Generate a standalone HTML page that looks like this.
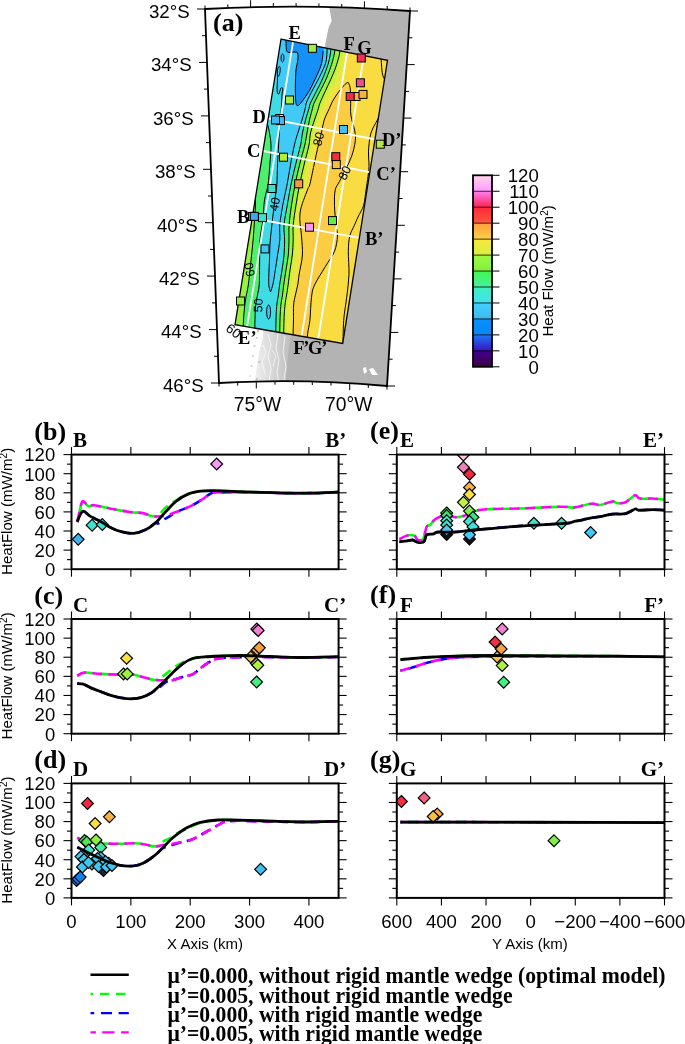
<!DOCTYPE html><html><head><meta charset="utf-8"><style>html,body{margin:0;padding:0;background:#fff;}svg{display:block;will-change:transform;}</style></head><body>
<svg width="685" height="1044" viewBox="0 0 685 1044">
<rect x="0" y="0" width="685" height="1044" fill="#fff"/>
<defs>
<clipPath id="cf"><path d="M205,9 Q307.5,3.4 410,11 L387,386 Q303,378.3 219,383 Z"/></clipPath>
<clipPath id="cr"><polygon points="281.0,39.2 387.5,60.3 342.7,343.4 235.0,324.7"/></clipPath>
</defs>
<path d="M205,9 Q307.5,3.4 410,11 L387,386 Q303,378.3 219,383 Z" fill="#fff"/>
<g clip-path="url(#cf)">
<polygon points="329.5,4.0 329.5,8.0 331.0,17.0 331.7,21.0 328.8,27.0 327.3,34.0 325.0,46.0 300.0,200.0 290.0,330.0 288.0,345.0 287.0,360.0 285.0,383.0 285.0,395.0 420.0,395.0 420.0,4.0" fill="#b3b3b3"/>
<defs><linearGradient id="ag" gradientUnits="userSpaceOnUse" x1="256" y1="0" x2="290" y2="0"><stop offset="0" stop-color="#eeeeee"/><stop offset="0.5" stop-color="#d6d6d6"/><stop offset="1" stop-color="#c0c0c0"/></linearGradient></defs>
<polygon points="263.0,326.0 292.0,330.0 289.0,345.0 287.0,365.0 285.0,386.0 254.0,386.0 256.0,372.0 259.0,352.0 263.0,338.0" fill="url(#ag)"/>
<circle cx="258.0" cy="331.0" r="1.2" fill="#c8c8c8"/>
<circle cx="256.5" cy="338.0" r="1.0" fill="#c8c8c8"/>
<circle cx="254.5" cy="346.0" r="1.1" fill="#c8c8c8"/>
<circle cx="253.0" cy="356.0" r="0.9" fill="#c8c8c8"/>
<circle cx="251.5" cy="366.0" r="1.0" fill="#c8c8c8"/>
<circle cx="250.0" cy="376.0" r="0.8" fill="#c8c8c8"/>
<circle cx="259.5" cy="362.0" r="1.3" fill="#c8c8c8"/>
<circle cx="257.0" cy="379.0" r="1.2" fill="#c8c8c8"/>
<path d="M268,334 L271,345 L268,356 L271,368 L269,382" stroke="#fff" stroke-width="0.9" fill="none" opacity="0.8"/>
<path d="M278,334 L276,348 L279,360 L277,372 L279,384" stroke="#fff" stroke-width="0.9" fill="none" opacity="0.8"/>
<path d="M263,345 L266,352 L262,362 L265,374" stroke="#fff" stroke-width="0.9" fill="none" opacity="0.8"/>
<path d="M285,336 L283,352 L286,366 L284,380" stroke="#fff" stroke-width="0.9" fill="none" opacity="0.8"/>
<path d="M272,350 L276,356 L273,366" stroke="#fff" stroke-width="0.9" fill="none" opacity="0.8"/>
<path d="M363,368 L366,367 L367,372 L364,374 Z M369,369 L373,368 L376,372 L378,375 L372,375 Z" fill="#fff"/>
</g>
<g clip-path="url(#cr)">
<polygon points="281.0,39.2 387.5,60.3 342.7,343.4 235.0,324.7" fill="#40dce6"/>
<path d="M270.00,30.00 C271.00,34.67 274.90,52.00 276.00,58.00 C277.10,64.00 276.35,62.83 276.60,66.00 C276.85,69.17 277.42,72.90 277.50,77.00 C277.58,81.10 276.88,87.77 277.10,90.60 C277.32,93.43 278.15,94.43 278.80,94.00 C279.45,93.57 280.33,88.87 281.00,88.00 C281.67,87.13 282.65,87.63 282.80,88.80 C282.95,89.97 282.12,92.30 281.90,95.00 C281.68,97.70 281.65,102.08 281.50,105.00 C281.35,107.92 281.20,110.00 281.00,112.50 C280.80,115.00 280.55,117.08 280.30,120.00 C280.05,122.92 279.78,125.83 279.50,130.00 C279.22,134.17 278.93,139.17 278.60,145.00 C278.27,150.83 277.80,158.33 277.50,165.00 C277.20,171.67 277.25,179.17 276.80,185.00 C276.35,190.83 275.43,195.00 274.80,200.00 C274.17,205.00 273.58,210.00 273.00,215.00 C272.42,220.00 271.82,225.00 271.30,230.00 C270.78,235.00 270.18,240.33 269.90,245.00 C269.62,249.67 269.75,253.83 269.60,258.00 C269.45,262.17 269.13,265.50 269.00,270.00 C268.87,274.50 268.53,281.33 268.80,285.00 C269.07,288.67 270.30,290.83 270.60,292.00 C270.90,293.17 270.17,293.50 270.60,292.00 C271.03,290.50 272.42,286.67 273.20,283.00 C273.98,279.33 274.57,274.67 275.30,270.00 C276.03,265.33 276.85,260.00 277.60,255.00 C278.35,250.00 279.43,245.00 279.80,240.00 C280.17,235.00 279.30,230.83 279.80,225.00 C280.30,219.17 281.60,211.67 282.80,205.00 C284.00,198.33 285.72,191.67 287.00,185.00 C288.28,178.33 289.27,171.67 290.50,165.00 C291.73,158.33 293.18,150.33 294.40,145.00 C295.62,139.67 296.53,137.17 297.80,133.00 C299.07,128.83 300.77,124.08 302.00,120.00 C303.23,115.92 304.42,111.52 305.20,108.50 C305.98,105.48 305.37,105.18 306.70,101.90 C308.03,98.62 311.13,92.82 313.20,88.80 C315.27,84.78 317.27,81.45 319.10,77.80 C320.93,74.15 322.98,69.93 324.20,66.90 C325.42,63.87 325.92,62.40 326.40,59.60 C326.88,56.80 326.83,53.37 327.10,50.10 C327.37,46.83 327.85,41.68 328.00,40.00 Z" fill="#42caf6"/>
<polygon points="260,30 276,58 276.6,66 250,70" fill="#42caf6"/>
<polygon points="331.5,40.0 330.8,50.5 329.3,59.6 326.4,69.1 322.0,80.0 316.2,91.7 310.3,103.4 308.9,108.5 305.5,120.0 302.5,133.0 300.6,145.0 295.5,165.0 290.9,185.0 287.3,205.0 284.0,225.0 284.6,240.0 284.0,255.0 282.0,270.0 279.6,285.0 278.4,295.0 276.8,305.0 276.0,320.0 275.5,350.0 460.0,350.0 460.0,40.0" fill="#4cf06c"/>
<polygon points="335.5,40.0 334.8,50.8 333.0,59.6 330.0,69.1 325.7,80.0 319.8,91.7 314.0,103.4 312.5,108.5 309.5,120.0 307.0,133.0 304.8,145.0 299.5,165.0 295.0,185.0 291.5,205.0 289.1,225.0 289.0,240.0 288.3,255.0 286.0,270.0 283.7,285.0 282.5,295.0 280.9,305.0 280.0,320.0 279.5,350.0 460.0,350.0 460.0,40.0" fill="#98f040"/>
<polygon points="340.5,36.0 340.5,39.0 340.4,42.0 340.2,45.0 340.1,48.0 339.9,51.0 339.4,54.0 338.7,57.0 338.0,60.0 337.0,63.0 336.1,66.0 335.1,69.0 333.9,72.0 332.6,75.0 331.3,78.0 330.0,81.0 328.6,84.0 327.2,87.0 325.8,90.0 324.5,93.0 323.1,96.0 321.8,99.0 320.4,102.0 319.4,105.0 318.5,108.0 317.6,111.0 316.5,114.0 315.5,117.0 314.5,120.0 313.6,123.0 312.7,126.0 311.7,129.0 310.8,132.0 310.2,135.0 309.9,138.0 309.5,141.0 309.1,144.0 308.5,147.0 307.8,150.0 307.0,153.0 306.2,156.0 305.5,159.0 304.8,162.0 304.0,165.0 303.3,168.0 302.6,171.0 302.0,174.0 301.3,177.0 300.6,180.0 299.9,183.0 299.3,186.0 298.8,189.0 298.3,192.0 297.8,195.0 297.2,198.0 296.7,201.0 296.2,204.0 295.7,207.0 295.3,210.0 294.9,213.0 294.5,216.0 294.0,219.0 293.6,222.0 293.2,225.0 293.2,228.0 293.2,231.0 293.2,234.0 293.2,237.0 293.2,240.0 293.0,243.0 292.8,246.0 292.7,249.0 292.5,252.0 292.3,255.0 291.8,258.0 291.4,261.0 290.9,264.0 290.5,267.0 290.0,270.0 289.6,273.0 289.2,276.0 288.9,279.0 288.5,282.0 288.1,285.0 287.7,288.0 287.2,291.0 286.8,294.0 286.3,297.0 285.8,300.0 285.3,303.0 284.9,306.0 284.7,309.0 284.5,312.0 284.3,315.0 284.1,318.0 284.0,321.0 283.9,324.0 283.9,327.0 283.8,330.0 283.8,333.0 283.7,336.0 283.7,339.0 283.6,342.0 283.6,345.0 283.5,348.0 460.0,348.0 460.0,36.0" fill="#c8f040"/>
<polygon points="343.6,36.0 343.5,39.0 343.4,42.0 343.2,45.0 343.0,48.0 342.8,51.0 342.3,54.0 341.7,57.0 341.1,60.0 340.3,63.0 339.5,66.0 338.7,69.0 337.7,72.0 336.7,75.0 335.7,78.0 334.6,81.0 332.9,84.0 331.1,87.0 329.4,90.0 327.8,93.0 326.3,96.0 324.8,99.0 323.4,102.0 322.3,105.0 321.3,108.0 320.2,111.0 319.1,114.0 318.0,117.0 316.9,120.0 316.1,123.0 315.2,126.0 314.4,129.0 313.5,132.0 312.9,135.0 312.4,138.0 312.0,141.0 311.5,144.0 310.9,147.0 310.1,150.0 309.4,153.0 308.7,156.0 308.0,159.0 307.2,162.0 306.5,165.0 305.8,168.0 305.2,171.0 304.5,174.0 303.8,177.0 303.2,180.0 302.5,183.0 301.8,186.0 301.1,189.0 300.4,192.0 299.8,195.0 299.1,198.0 298.5,201.0 297.9,204.0 297.3,207.0 296.7,210.0 296.2,213.0 295.9,216.0 295.6,219.0 295.4,222.0 295.1,225.0 295.1,228.0 295.2,231.0 295.2,234.0 295.3,237.0 295.3,240.0 295.2,243.0 295.1,246.0 295.0,249.0 294.9,252.0 294.8,255.0 294.4,258.0 293.9,261.0 293.4,264.0 292.9,267.0 292.5,270.0 292.1,273.0 291.7,276.0 291.3,279.0 290.9,282.0 290.5,285.0 290.0,288.0 289.5,291.0 289.0,294.0 288.5,297.0 288.0,300.0 287.5,303.0 287.1,306.0 286.9,309.0 286.8,312.0 286.6,315.0 286.5,318.0 286.4,321.0 286.3,324.0 286.2,327.0 286.2,330.0 286.1,333.0 286.1,336.0 286.0,339.0 286.0,342.0 285.9,345.0 285.9,348.0 460.0,348.0 460.0,36.0" fill="#e0ea40"/>
<polygon points="346.8,36.0 346.6,39.0 346.4,42.0 346.2,45.0 345.9,48.0 345.7,51.0 345.2,54.0 344.7,57.0 344.2,60.0 343.6,63.0 343.0,66.0 342.3,69.0 341.5,72.0 340.7,75.0 340.0,78.0 339.1,81.0 337.1,84.0 335.0,87.0 333.0,90.0 331.2,93.0 329.5,96.0 327.9,99.0 326.4,102.0 325.1,105.0 324.0,108.0 322.9,111.0 321.7,114.0 320.6,117.0 319.4,120.0 318.6,123.0 317.8,126.0 317.0,129.0 316.2,132.0 315.6,135.0 315.0,138.0 314.4,141.0 313.9,144.0 313.2,147.0 312.5,150.0 311.8,153.0 311.1,156.0 310.4,159.0 309.7,162.0 309.0,165.0 308.3,168.0 307.7,171.0 307.0,174.0 306.4,177.0 305.7,180.0 305.0,183.0 304.3,186.0 303.3,189.0 302.5,192.0 301.8,195.0 301.0,198.0 300.3,201.0 299.5,204.0 298.8,207.0 298.1,210.0 297.4,213.0 297.3,216.0 297.2,219.0 297.1,222.0 297.0,225.0 297.1,228.0 297.2,231.0 297.3,234.0 297.4,237.0 297.4,240.0 297.4,243.0 297.4,246.0 297.4,249.0 297.4,252.0 297.4,255.0 296.9,258.0 296.4,261.0 295.9,264.0 295.4,267.0 294.9,270.0 294.5,273.0 294.1,276.0 293.7,279.0 293.3,282.0 292.9,285.0 292.3,288.0 291.8,291.0 291.2,294.0 290.7,297.0 290.1,300.0 289.6,303.0 289.3,306.0 289.2,309.0 289.0,312.0 288.9,315.0 288.8,318.0 288.7,321.0 288.7,324.0 288.6,327.0 288.5,330.0 288.5,333.0 288.4,336.0 288.4,339.0 288.3,342.0 288.3,345.0 288.3,348.0 460.0,348.0 460.0,36.0" fill="#f0e440"/>
<polygon points="349.9,36.0 349.6,39.0 349.4,42.0 349.1,45.0 348.8,48.0 348.6,51.0 348.2,54.0 347.8,57.0 347.4,60.0 346.9,63.0 346.4,66.0 345.9,69.0 345.4,72.0 344.8,75.0 344.3,78.0 343.7,81.0 341.3,84.0 338.9,87.0 336.6,90.0 334.6,93.0 332.8,96.0 330.9,99.0 329.3,102.0 328.0,105.0 326.8,108.0 325.5,111.0 324.3,114.0 323.1,117.0 321.8,120.0 321.0,123.0 320.3,126.0 319.6,129.0 318.9,132.0 318.2,135.0 317.6,138.0 316.9,141.0 316.3,144.0 315.6,147.0 314.9,150.0 314.2,153.0 313.5,156.0 312.9,159.0 312.2,162.0 311.5,165.0 310.8,168.0 310.2,171.0 309.5,174.0 308.9,177.0 308.2,180.0 307.6,183.0 306.8,186.0 305.6,189.0 304.6,192.0 303.8,195.0 302.9,198.0 302.1,201.0 301.2,204.0 300.4,207.0 299.5,210.0 298.7,213.0 298.8,216.0 298.8,219.0 298.8,222.0 298.9,225.0 299.0,228.0 299.2,231.0 299.3,234.0 299.5,237.0 299.6,240.0 299.6,243.0 299.7,246.0 299.8,249.0 299.8,252.0 299.9,255.0 299.4,258.0 298.9,261.0 298.4,264.0 297.9,267.0 297.4,270.0 296.9,273.0 296.5,276.0 296.1,279.0 295.7,282.0 295.3,285.0 294.7,288.0 294.0,291.0 293.4,294.0 292.8,297.0 292.3,300.0 291.8,303.0 291.4,306.0 291.4,309.0 291.3,312.0 291.2,315.0 291.2,318.0 291.1,321.0 291.0,324.0 290.9,327.0 290.9,330.0 290.8,333.0 290.7,336.0 290.7,339.0 290.7,342.0 290.7,345.0 290.6,348.0 460.0,348.0 460.0,36.0" fill="#f6de40"/>
<polygon points="353.0,36.0 350.5,60.0 348.1,82.3 345.0,84.4 338.8,91.7 333.0,100.5 329.3,108.5 324.1,120.4 321.2,133.7 318.4,145.0 314.0,165.0 309.7,185.0 307.4,190.0 300.0,213.0 301.5,236.0 302.4,255.0 299.2,274.0 297.7,285.0 295.4,295.0 293.6,305.0 293.5,320.0 293.1,334.0 293.0,350.0 460.0,350.0 460.0,36.0" fill="#fbcd43"/>
<polygon points="348.1,82.3 350.1,87.4 350.7,100.0 350.9,115.3 354.7,130.7 355.3,140.9 351.7,156.2 345.5,169.5 339.4,181.7 335.2,190.0 334.5,205.3 336.0,225.3 337.5,236.0 334.5,251.3 325.3,266.7 314.5,285.1 311.5,297.3 309.9,320.3 307.6,334.1 307.0,350.0 460.0,350.0 460.0,30.0 353.0,30.0 350.5,60.0" fill="#f9dc42"/>
<polygon points="265.5,118.0 268.5,128.0 271.0,145.0 269.8,165.0 268.0,185.0 264.5,200.0 262.9,220.0 260.0,240.0 259.6,265.0 259.2,285.0 256.5,300.0 255.3,310.0 254.8,330.0 254.5,350.0 200.0,350.0 200.0,118.0" fill="#4cf06c"/>
<polygon points="253.0,190.0 255.5,200.0 254.5,220.0 253.1,240.0 250.5,265.0 248.3,285.0 245.5,300.0 243.5,320.0 242.5,350.0 200.0,350.0 200.0,190.0" fill="#98f040"/>
<path d="M286.00,38.00 C292.33,38.00 317.82,35.87 324.00,38.00 C330.18,40.13 323.32,47.80 323.10,50.80 C322.88,53.80 322.95,53.93 322.70,56.00 C322.45,58.07 322.20,60.78 321.60,63.20 C321.00,65.62 320.25,67.70 319.10,70.50 C317.95,73.30 316.28,76.70 314.70,80.00 C313.12,83.30 311.42,87.13 309.60,90.30 C307.78,93.47 305.48,96.63 303.80,99.00 C302.12,101.37 300.67,103.45 299.50,104.50 C298.33,105.55 297.45,106.05 296.80,105.30 C296.15,104.55 295.83,103.38 295.60,100.00 C295.37,96.62 295.33,90.00 295.40,85.00 C295.47,80.00 295.60,74.17 296.00,70.00 C296.40,65.83 297.53,62.83 297.80,60.00 C298.07,57.17 298.23,54.33 297.60,53.00 C296.97,51.67 295.43,52.08 294.00,52.00 C292.57,51.92 290.25,52.83 289.00,52.50 C287.75,52.17 286.92,50.42 286.50,50.00 Z" fill="#1490f8"/>
<ellipse cx="268.6" cy="312" rx="2" ry="7" fill="#3cc0f6" stroke="#000" stroke-width="0.9"/>
<ellipse cx="282.5" cy="58" rx="1.5" ry="4" fill="#3cc0f6" stroke="#000" stroke-width="0.9"/>
<path d="M277.5,70 C279,64 281,66 280,72 C279,78 277,78 277.5,70 Z" fill="none" stroke="#000" stroke-width="0.9"/>
<path d="M328.00,40.00 C327.85,41.68 327.37,46.83 327.10,50.10 C326.83,53.37 326.88,56.80 326.40,59.60 C325.92,62.40 325.42,63.87 324.20,66.90 C322.98,69.93 320.93,74.15 319.10,77.80 C317.27,81.45 315.27,84.78 313.20,88.80 C311.13,92.82 308.03,98.62 306.70,101.90 C305.37,105.18 305.98,105.48 305.20,108.50 C304.42,111.52 303.23,115.92 302.00,120.00 C300.77,124.08 299.07,128.83 297.80,133.00 C296.53,137.17 295.62,139.67 294.40,145.00 C293.18,150.33 291.73,158.33 290.50,165.00 C289.27,171.67 288.28,178.33 287.00,185.00 C285.72,191.67 284.00,198.33 282.80,205.00 C281.60,211.67 280.30,219.17 279.80,225.00 C279.30,230.83 280.17,235.00 279.80,240.00 C279.43,245.00 278.35,250.00 277.60,255.00 C276.85,260.00 276.03,265.33 275.30,270.00 C274.57,274.67 273.98,279.33 273.20,283.00 C272.42,286.67 271.03,290.50 270.60,292.00" stroke="#000" stroke-width="1" fill="none"/>
<path d="M331.50,40.00 C331.38,41.75 331.17,47.23 330.80,50.50 C330.43,53.77 330.03,56.50 329.30,59.60 C328.57,62.70 327.62,65.70 326.40,69.10 C325.18,72.50 323.70,76.23 322.00,80.00 C320.30,83.77 318.15,87.80 316.20,91.70 C314.25,95.60 311.52,100.60 310.30,103.40 C309.08,106.20 309.70,105.73 308.90,108.50 C308.10,111.27 306.57,115.92 305.50,120.00 C304.43,124.08 303.32,128.83 302.50,133.00 C301.68,137.17 301.77,139.67 300.60,145.00 C299.43,150.33 297.12,158.33 295.50,165.00 C293.88,171.67 292.27,178.33 290.90,185.00 C289.53,191.67 288.45,198.33 287.30,205.00 C286.15,211.67 284.45,219.17 284.00,225.00 C283.55,230.83 284.60,235.00 284.60,240.00 C284.60,245.00 284.43,250.00 284.00,255.00 C283.57,260.00 282.73,265.00 282.00,270.00 C281.27,275.00 280.20,280.83 279.60,285.00 C279.00,289.17 278.87,291.67 278.40,295.00 C277.93,298.33 277.20,300.83 276.80,305.00 C276.40,309.17 276.22,312.50 276.00,320.00 C275.78,327.50 275.58,345.00 275.50,350.00" stroke="#000" stroke-width="1" fill="none"/>
<path d="M335.50,40.00 C335.38,41.80 335.22,47.53 334.80,50.80 C334.38,54.07 333.80,56.55 333.00,59.60 C332.20,62.65 331.22,65.70 330.00,69.10 C328.78,72.50 327.40,76.23 325.70,80.00 C324.00,83.77 321.75,87.80 319.80,91.70 C317.85,95.60 315.22,100.60 314.00,103.40 C312.78,106.20 313.25,105.73 312.50,108.50 C311.75,111.27 310.42,115.92 309.50,120.00 C308.58,124.08 307.78,128.83 307.00,133.00 C306.22,137.17 306.05,139.67 304.80,145.00 C303.55,150.33 301.13,158.33 299.50,165.00 C297.87,171.67 296.33,178.33 295.00,185.00 C293.67,191.67 292.48,198.33 291.50,205.00 C290.52,211.67 289.52,219.17 289.10,225.00 C288.68,230.83 289.13,235.00 289.00,240.00 C288.87,245.00 288.80,250.00 288.30,255.00 C287.80,260.00 286.77,265.00 286.00,270.00 C285.23,275.00 284.28,280.83 283.70,285.00 C283.12,289.17 282.97,291.67 282.50,295.00 C282.03,298.33 281.32,300.83 280.90,305.00 C280.48,309.17 280.23,312.50 280.00,320.00 C279.77,327.50 279.58,345.00 279.50,350.00" stroke="#000" stroke-width="1" fill="none"/>
<path d="M340.50,40.00 C340.40,41.93 340.30,48.33 339.90,51.60 C339.50,54.87 338.90,56.68 338.10,59.60 C337.30,62.52 336.32,65.82 335.10,69.10 C333.88,72.38 332.37,75.77 330.80,79.30 C329.23,82.83 327.53,86.28 325.70,90.30 C323.87,94.32 321.02,100.37 319.80,103.40 C318.58,106.43 319.28,105.73 318.40,108.50 C317.52,111.27 315.82,115.92 314.50,120.00 C313.18,124.08 311.42,128.83 310.50,133.00 C309.58,137.17 310.08,139.67 309.00,145.00 C307.92,150.33 305.58,158.33 304.00,165.00 C302.42,171.67 300.83,178.33 299.50,185.00 C298.17,191.67 297.05,198.33 296.00,205.00 C294.95,211.67 293.67,219.17 293.20,225.00 C292.73,230.83 293.35,235.00 293.20,240.00 C293.05,245.00 292.83,250.00 292.30,255.00 C291.77,260.00 290.70,265.00 290.00,270.00 C289.30,275.00 288.67,280.83 288.10,285.00 C287.53,289.17 287.12,291.67 286.60,295.00 C286.08,298.33 285.43,300.83 285.00,305.00 C284.57,309.17 284.25,312.50 284.00,320.00 C283.75,327.50 283.58,345.00 283.50,350.00" stroke="#000" stroke-width="1" fill="none"/>
<path d="M348.10,82.30 C348.43,83.15 349.67,84.45 350.10,87.40 C350.53,90.35 350.57,95.35 350.70,100.00 C350.83,104.65 350.23,110.18 350.90,115.30 C351.57,120.42 353.97,126.43 354.70,130.70 C355.43,134.97 355.80,136.65 355.30,140.90 C354.80,145.15 353.33,151.43 351.70,156.20 C350.07,160.97 347.55,165.25 345.50,169.50 C343.45,173.75 341.12,178.28 339.40,181.70 C337.68,185.12 336.02,186.07 335.20,190.00 C334.38,193.93 334.37,199.42 334.50,205.30 C334.63,211.18 335.50,220.18 336.00,225.30 C336.50,230.42 337.75,231.67 337.50,236.00 C337.25,240.33 336.53,246.18 334.50,251.30 C332.47,256.42 328.63,261.07 325.30,266.70 C321.97,272.33 316.80,280.00 314.50,285.10 C312.20,290.20 312.27,291.43 311.50,297.30 C310.73,303.17 310.55,314.17 309.90,320.30 C309.25,326.43 308.08,329.15 307.60,334.10 C307.12,339.05 307.10,347.35 307.00,350.00" stroke="#000" stroke-width="1" fill="none"/>
<path d="M381.20,57.00 C381.25,58.33 381.25,62.00 381.50,65.00 C381.75,68.00 381.95,72.17 382.70,75.00 C383.45,77.83 385.45,80.83 386.00,82.00" stroke="#000" stroke-width="1" fill="none"/>
<path d="M382.00,108.00 C381.37,109.73 379.70,115.07 378.20,118.40 C376.70,121.73 374.35,124.93 373.00,128.00 C371.65,131.07 370.85,132.95 370.10,136.80 C369.35,140.65 368.68,146.17 368.50,151.10 C368.32,156.03 369.08,162.15 369.00,166.40 C368.92,170.65 368.50,172.67 368.00,176.60 C367.50,180.53 366.73,185.22 366.00,190.00 C365.27,194.78 364.93,200.80 363.60,205.30 C362.27,209.80 359.53,213.67 358.00,217.00 C356.47,220.33 355.77,222.13 354.40,225.30 C353.03,228.47 350.82,231.67 349.80,236.00 C348.78,240.33 348.43,244.92 348.30,251.30 C348.17,257.68 349.27,266.63 349.00,274.30 C348.73,281.97 347.58,289.63 346.70,297.30 C345.82,304.97 344.33,311.52 343.70,320.30 C343.07,329.08 343.03,345.05 342.90,350.00" stroke="#000" stroke-width="1" fill="none"/>
<path d="M276.00,58.00 C276.10,59.33 276.35,62.83 276.60,66.00 C276.85,69.17 277.42,72.90 277.50,77.00 C277.58,81.10 276.88,87.77 277.10,90.60 C277.32,93.43 278.15,94.43 278.80,94.00 C279.45,93.57 280.33,88.87 281.00,88.00 C281.67,87.13 282.65,87.63 282.80,88.80 C282.95,89.97 282.12,92.30 281.90,95.00 C281.68,97.70 281.65,102.08 281.50,105.00 C281.35,107.92 281.20,110.00 281.00,112.50 C280.80,115.00 280.55,117.08 280.30,120.00 C280.05,122.92 279.78,125.83 279.50,130.00 C279.22,134.17 278.93,139.17 278.60,145.00 C278.27,150.83 277.80,158.33 277.50,165.00 C277.20,171.67 277.25,179.17 276.80,185.00 C276.35,190.83 275.43,195.00 274.80,200.00 C274.17,205.00 273.58,210.00 273.00,215.00 C272.42,220.00 271.82,225.00 271.30,230.00 C270.78,235.00 270.18,240.33 269.90,245.00 C269.62,249.67 269.75,253.83 269.60,258.00 C269.45,262.17 269.13,265.50 269.00,270.00 C268.87,274.50 268.53,281.33 268.80,285.00 C269.07,288.67 270.30,290.83 270.60,292.00" stroke="#000" stroke-width="1" fill="none"/>
<path d="M265.50,118.00 C266.00,119.67 267.58,123.50 268.50,128.00 C269.42,132.50 270.78,138.83 271.00,145.00 C271.22,151.17 270.30,158.33 269.80,165.00 C269.30,171.67 268.88,179.17 268.00,185.00 C267.12,190.83 265.35,194.17 264.50,200.00 C263.65,205.83 263.65,213.33 262.90,220.00 C262.15,226.67 260.55,232.50 260.00,240.00 C259.45,247.50 259.73,257.50 259.60,265.00 C259.47,272.50 259.72,279.17 259.20,285.00 C258.68,290.83 257.15,295.83 256.50,300.00 C255.85,304.17 255.58,305.00 255.30,310.00 C255.02,315.00 254.93,323.33 254.80,330.00 C254.67,336.67 254.55,346.67 254.50,350.00" stroke="#000" stroke-width="1" fill="none"/>
<path d="M253.00,190.00 C253.42,191.67 255.25,195.00 255.50,200.00 C255.75,205.00 254.90,213.33 254.50,220.00 C254.10,226.67 253.77,232.50 253.10,240.00 C252.43,247.50 251.30,257.50 250.50,265.00 C249.70,272.50 249.13,279.17 248.30,285.00 C247.47,290.83 246.30,294.17 245.50,300.00 C244.70,305.83 244.00,311.67 243.50,320.00 C243.00,328.33 242.67,345.00 242.50,350.00" stroke="#000" stroke-width="1" fill="none"/>
<path d="M348.10,82.30 C347.58,82.65 346.55,82.83 345.00,84.40 C343.45,85.97 340.80,89.02 338.80,91.70 C336.80,94.38 334.58,97.70 333.00,100.50 C331.42,103.30 330.78,105.18 329.30,108.50 C327.82,111.82 325.45,116.20 324.10,120.40 C322.75,124.60 322.15,129.60 321.20,133.70 C320.25,137.80 319.60,139.78 318.40,145.00 C317.20,150.22 315.45,158.33 314.00,165.00 C312.55,171.67 310.80,180.83 309.70,185.00 C308.60,189.17 309.02,185.33 307.40,190.00 C305.78,194.67 300.98,205.33 300.00,213.00 C299.02,220.67 301.10,229.00 301.50,236.00 C301.90,243.00 302.78,248.67 302.40,255.00 C302.02,261.33 299.98,269.00 299.20,274.00 C298.42,279.00 298.33,281.50 297.70,285.00 C297.07,288.50 296.08,291.67 295.40,295.00 C294.72,298.33 293.92,300.83 293.60,305.00 C293.28,309.17 293.58,315.17 293.50,320.00 C293.42,324.83 293.18,329.00 293.10,334.00 C293.02,339.00 293.02,347.33 293.00,350.00" stroke="#000" stroke-width="1" fill="none"/>
<path d="M323.10,50.80 C323.03,51.67 322.95,53.93 322.70,56.00 C322.45,58.07 322.20,60.78 321.60,63.20 C321.00,65.62 320.25,67.70 319.10,70.50 C317.95,73.30 316.28,76.70 314.70,80.00 C313.12,83.30 311.42,87.13 309.60,90.30 C307.78,93.47 305.48,96.63 303.80,99.00 C302.12,101.37 300.67,103.45 299.50,104.50 C298.33,105.55 297.45,106.05 296.80,105.30 C296.15,104.55 295.83,103.38 295.60,100.00 C295.37,96.62 295.33,90.00 295.40,85.00 C295.47,80.00 295.60,74.17 296.00,70.00 C296.40,65.83 297.53,62.83 297.80,60.00 C298.07,57.17 298.23,54.33 297.60,53.00 C296.97,51.67 295.43,52.08 294.00,52.00 C292.57,51.92 290.25,52.83 289.00,52.50 C287.75,52.17 287.00,52.42 286.50,50.00 C286.00,47.58 286.08,40.00 286.00,38.00" stroke="#000" stroke-width="1" fill="none"/>
</g>
<g clip-path="url(#cr)" stroke="#fff" stroke-width="1.8">
<line x1="293.5" y1="39.0" x2="246.5" y2="330.0"/>
<line x1="347.4" y1="50.0" x2="301.0" y2="340.0"/>
<line x1="364.3" y1="53.0" x2="317.7" y2="342.0"/>
<line x1="266.0" y1="117.8" x2="378.0" y2="140.0"/>
<line x1="258.0" y1="150.0" x2="376.0" y2="173.3"/>
<line x1="249.0" y1="217.6" x2="362.0" y2="238.3"/>
</g>
<polygon points="281.0,39.2 387.5,60.3 342.7,343.4 235.0,324.7" fill="none" stroke="#000" stroke-width="1.3"/>
<rect x="275.6" y="114.5" width="8" height="8" fill="#e8e040" stroke="#000" stroke-width="1"/>
<rect x="276.5" y="116.6" width="8" height="8" fill="#40b8f0" stroke="#000" stroke-width="1"/>
<rect x="271.5" y="116.0" width="8" height="8" fill="#40b8f0" stroke="#000" stroke-width="1"/>
<rect x="308.4" y="44.3" width="8" height="8" fill="#a0f040" stroke="#000" stroke-width="1"/>
<rect x="357.3" y="54.0" width="8" height="8" fill="#f03050" stroke="#000" stroke-width="1"/>
<rect x="356.4" y="78.8" width="8" height="8" fill="#f05088" stroke="#000" stroke-width="1"/>
<rect x="352.0" y="92.5" width="8" height="8" fill="#f8b040" stroke="#000" stroke-width="1"/>
<rect x="346.2" y="92.5" width="8" height="8" fill="#f02848" stroke="#000" stroke-width="1"/>
<rect x="359.0" y="90.4" width="8" height="8" fill="#f8b040" stroke="#000" stroke-width="1"/>
<rect x="285.5" y="96.0" width="8" height="8" fill="#a8f040" stroke="#000" stroke-width="1"/>
<rect x="339.5" y="125.5" width="8" height="8" fill="#40c0f8" stroke="#000" stroke-width="1"/>
<rect x="376.3" y="140.2" width="8" height="8" fill="#b8e840" stroke="#000" stroke-width="1"/>
<rect x="279.5" y="153.2" width="8" height="8" fill="#b0f030" stroke="#000" stroke-width="1"/>
<rect x="331.8" y="152.7" width="8" height="8" fill="#f03038" stroke="#000" stroke-width="1"/>
<rect x="332.3" y="160.6" width="8" height="8" fill="#f8c040" stroke="#000" stroke-width="1"/>
<rect x="294.7" y="179.8" width="8" height="8" fill="#f89840" stroke="#000" stroke-width="1"/>
<rect x="267.9" y="184.5" width="8" height="8" fill="#40e0c8" stroke="#000" stroke-width="1"/>
<rect x="248.5" y="212.4" width="8" height="8" fill="#40a8f0" stroke="#000" stroke-width="1"/>
<rect x="250.3" y="212.4" width="8" height="8" fill="#40a8f0" stroke="#000" stroke-width="1"/>
<rect x="258.5" y="213.6" width="8" height="8" fill="#40e0c8" stroke="#000" stroke-width="1"/>
<rect x="261.0" y="244.9" width="8" height="8" fill="#40c8f0" stroke="#000" stroke-width="1"/>
<rect x="305.5" y="223.2" width="8" height="8" fill="#f898f0" stroke="#000" stroke-width="1"/>
<rect x="328.5" y="216.6" width="8" height="8" fill="#60f040" stroke="#000" stroke-width="1"/>
<rect x="236.5" y="297.0" width="8" height="8" fill="#90f040" stroke="#000" stroke-width="1"/>
<text x="318.8" y="139.1" transform="rotate(-76.0 318.8 139.1)" font-family='&quot;Liberation Sans&quot;, sans-serif' font-size="12.5" text-anchor="middle" dominant-baseline="central" fill="#000">80</text>
<text x="345.0" y="173.0" transform="rotate(-64.0 345.0 173.0)" font-family='&quot;Liberation Sans&quot;, sans-serif' font-size="12.5" text-anchor="middle" dominant-baseline="central" fill="#000">80</text>
<text x="275.0" y="204.2" transform="rotate(-80.0 275.0 204.2)" font-family='&quot;Liberation Sans&quot;, sans-serif' font-size="12.5" text-anchor="middle" dominant-baseline="central" fill="#000">40</text>
<text x="258.4" y="305.4" transform="rotate(-88.0 258.4 305.4)" font-family='&quot;Liberation Sans&quot;, sans-serif' font-size="12.5" text-anchor="middle" dominant-baseline="central" fill="#000">50</text>
<text x="249.8" y="269.5" transform="rotate(-100.0 249.8 269.5)" font-family='&quot;Liberation Sans&quot;, sans-serif' font-size="12.5" text-anchor="middle" dominant-baseline="central" fill="#000">60</text>
<text x="233.5" y="331.0" transform="rotate(38.0 233.5 331.0)" font-family='&quot;Liberation Sans&quot;, sans-serif' font-size="13.5" text-anchor="middle" dominant-baseline="central" fill="#000">60</text>
<text x="288.4" y="38.5" font-family='&quot;Liberation Serif&quot;, serif' font-weight="bold" font-size="18.5" text-anchor="start" fill="#000">E</text>
<text x="343.4" y="49.5" font-family='&quot;Liberation Serif&quot;, serif' font-weight="bold" font-size="18.5" text-anchor="start" fill="#000">F</text>
<text x="357.3" y="53.6" font-family='&quot;Liberation Serif&quot;, serif' font-weight="bold" font-size="18.5" text-anchor="start" fill="#000">G</text>
<text x="252.4" y="122.5" font-family='&quot;Liberation Serif&quot;, serif' font-weight="bold" font-size="18.5" text-anchor="start" fill="#000">D</text>
<text x="247.1" y="157.4" font-family='&quot;Liberation Serif&quot;, serif' font-weight="bold" font-size="18.5" text-anchor="start" fill="#000">C</text>
<text x="236.9" y="222.9" font-family='&quot;Liberation Serif&quot;, serif' font-weight="bold" font-size="18.5" text-anchor="start" fill="#000">B</text>
<text x="382.0" y="146.4" font-family='&quot;Liberation Serif&quot;, serif' font-weight="bold" font-size="18.5" text-anchor="start" fill="#000">D&#8217;</text>
<text x="376.3" y="179.9" font-family='&quot;Liberation Serif&quot;, serif' font-weight="bold" font-size="18.5" text-anchor="start" fill="#000">C&#8217;</text>
<text x="364.9" y="245.4" font-family='&quot;Liberation Serif&quot;, serif' font-weight="bold" font-size="18.5" text-anchor="start" fill="#000">B&#8217;</text>
<text x="238.1" y="344.4" font-family='&quot;Liberation Serif&quot;, serif' font-weight="bold" font-size="18.5" text-anchor="start" fill="#000">E&#8217;</text>
<text x="293.3" y="354.3" font-family='&quot;Liberation Serif&quot;, serif' font-weight="bold" font-size="18.5" text-anchor="start" fill="#000" textLength="34.0" lengthAdjust="spacing">F&#8217;G&#8217;</text>
<text x="213.0" y="30.6" font-family='&quot;Liberation Serif&quot;, serif' font-weight="bold" font-size="26.0" text-anchor="start" fill="#000">(a)</text>
<path d="M205,9 Q307.5,3.4 410,11 L387,386 Q303,378.3 219,383 Z" fill="none" stroke="#000" stroke-width="1.8"/>
<line x1="205.0" y1="9.0" x2="205.0" y2="5.5" stroke="#000" stroke-width="1"/>
<line x1="227.8" y1="7.9" x2="227.8" y2="4.4" stroke="#000" stroke-width="1"/>
<line x1="250.6" y1="7.2" x2="250.6" y2="0.2" stroke="#000" stroke-width="1"/>
<line x1="273.3" y1="6.7" x2="273.3" y2="3.2" stroke="#000" stroke-width="1"/>
<line x1="296.1" y1="6.6" x2="296.1" y2="3.1" stroke="#000" stroke-width="1"/>
<line x1="318.9" y1="6.9" x2="318.9" y2="3.4" stroke="#000" stroke-width="1"/>
<line x1="341.7" y1="7.4" x2="341.7" y2="3.9" stroke="#000" stroke-width="1"/>
<line x1="364.4" y1="8.3" x2="364.4" y2="1.3" stroke="#000" stroke-width="1"/>
<line x1="387.2" y1="9.5" x2="387.2" y2="6.0" stroke="#000" stroke-width="1"/>
<line x1="410.0" y1="11.0" x2="410.0" y2="7.5" stroke="#000" stroke-width="1"/>
<line x1="219.0" y1="383.0" x2="219.0" y2="386.5" stroke="#000" stroke-width="1"/>
<line x1="237.7" y1="382.1" x2="237.7" y2="385.6" stroke="#000" stroke-width="1"/>
<line x1="256.3" y1="381.5" x2="256.3" y2="388.5" stroke="#000" stroke-width="1"/>
<line x1="275.0" y1="381.2" x2="275.0" y2="384.7" stroke="#000" stroke-width="1"/>
<line x1="293.7" y1="381.3" x2="293.7" y2="384.8" stroke="#000" stroke-width="1"/>
<line x1="312.3" y1="381.6" x2="312.3" y2="385.1" stroke="#000" stroke-width="1"/>
<line x1="331.0" y1="382.2" x2="331.0" y2="385.7" stroke="#000" stroke-width="1"/>
<line x1="349.7" y1="383.2" x2="349.7" y2="390.2" stroke="#000" stroke-width="1"/>
<line x1="368.3" y1="384.4" x2="368.3" y2="387.9" stroke="#000" stroke-width="1"/>
<line x1="387.0" y1="386.0" x2="387.0" y2="389.5" stroke="#000" stroke-width="1"/>
<line x1="205.0" y1="9.0" x2="197.0" y2="9.0" stroke="#000" stroke-width="1"/>
<line x1="410.0" y1="11.0" x2="418.0" y2="11.0" stroke="#000" stroke-width="1"/>
<line x1="206.0" y1="35.7" x2="202.0" y2="35.7" stroke="#000" stroke-width="1"/>
<line x1="408.4" y1="37.8" x2="412.4" y2="37.8" stroke="#000" stroke-width="1"/>
<line x1="207.0" y1="62.4" x2="199.0" y2="62.4" stroke="#000" stroke-width="1"/>
<line x1="406.7" y1="64.6" x2="414.7" y2="64.6" stroke="#000" stroke-width="1"/>
<line x1="208.0" y1="89.1" x2="204.0" y2="89.1" stroke="#000" stroke-width="1"/>
<line x1="405.1" y1="91.4" x2="409.1" y2="91.4" stroke="#000" stroke-width="1"/>
<line x1="209.0" y1="115.9" x2="201.0" y2="115.9" stroke="#000" stroke-width="1"/>
<line x1="403.4" y1="118.1" x2="411.4" y2="118.1" stroke="#000" stroke-width="1"/>
<line x1="210.0" y1="142.6" x2="206.0" y2="142.6" stroke="#000" stroke-width="1"/>
<line x1="401.8" y1="144.9" x2="405.8" y2="144.9" stroke="#000" stroke-width="1"/>
<line x1="211.0" y1="169.3" x2="203.0" y2="169.3" stroke="#000" stroke-width="1"/>
<line x1="400.1" y1="171.7" x2="408.1" y2="171.7" stroke="#000" stroke-width="1"/>
<line x1="212.0" y1="196.0" x2="208.0" y2="196.0" stroke="#000" stroke-width="1"/>
<line x1="398.5" y1="198.5" x2="402.5" y2="198.5" stroke="#000" stroke-width="1"/>
<line x1="213.0" y1="222.7" x2="205.0" y2="222.7" stroke="#000" stroke-width="1"/>
<line x1="396.9" y1="225.3" x2="404.9" y2="225.3" stroke="#000" stroke-width="1"/>
<line x1="214.0" y1="249.4" x2="210.0" y2="249.4" stroke="#000" stroke-width="1"/>
<line x1="395.2" y1="252.1" x2="399.2" y2="252.1" stroke="#000" stroke-width="1"/>
<line x1="215.0" y1="276.1" x2="207.0" y2="276.1" stroke="#000" stroke-width="1"/>
<line x1="393.6" y1="278.9" x2="401.6" y2="278.9" stroke="#000" stroke-width="1"/>
<line x1="216.0" y1="302.9" x2="212.0" y2="302.9" stroke="#000" stroke-width="1"/>
<line x1="391.9" y1="305.6" x2="395.9" y2="305.6" stroke="#000" stroke-width="1"/>
<line x1="217.0" y1="329.6" x2="209.0" y2="329.6" stroke="#000" stroke-width="1"/>
<line x1="390.3" y1="332.4" x2="398.3" y2="332.4" stroke="#000" stroke-width="1"/>
<line x1="218.0" y1="356.3" x2="214.0" y2="356.3" stroke="#000" stroke-width="1"/>
<line x1="388.6" y1="359.2" x2="392.6" y2="359.2" stroke="#000" stroke-width="1"/>
<line x1="219.0" y1="383.0" x2="211.0" y2="383.0" stroke="#000" stroke-width="1"/>
<line x1="387.0" y1="386.0" x2="395.0" y2="386.0" stroke="#000" stroke-width="1"/>
<text x="189.7" y="11.3" font-family='&quot;Liberation Sans&quot;, sans-serif' font-size="18.7" text-anchor="end" dominant-baseline="central" fill="#000">32&#176;S</text>
<text x="191.7" y="64.7" font-family='&quot;Liberation Sans&quot;, sans-serif' font-size="18.7" text-anchor="end" dominant-baseline="central" fill="#000">34&#176;S</text>
<text x="193.7" y="118.2" font-family='&quot;Liberation Sans&quot;, sans-serif' font-size="18.7" text-anchor="end" dominant-baseline="central" fill="#000">36&#176;S</text>
<text x="195.7" y="171.6" font-family='&quot;Liberation Sans&quot;, sans-serif' font-size="18.7" text-anchor="end" dominant-baseline="central" fill="#000">38&#176;S</text>
<text x="197.7" y="225.0" font-family='&quot;Liberation Sans&quot;, sans-serif' font-size="18.7" text-anchor="end" dominant-baseline="central" fill="#000">40&#176;S</text>
<text x="199.7" y="278.4" font-family='&quot;Liberation Sans&quot;, sans-serif' font-size="18.7" text-anchor="end" dominant-baseline="central" fill="#000">42&#176;S</text>
<text x="201.7" y="331.9" font-family='&quot;Liberation Sans&quot;, sans-serif' font-size="18.7" text-anchor="end" dominant-baseline="central" fill="#000">44&#176;S</text>
<text x="203.7" y="385.3" font-family='&quot;Liberation Sans&quot;, sans-serif' font-size="18.7" text-anchor="end" dominant-baseline="central" fill="#000">46&#176;S</text>
<text x="257.4" y="411.4" font-family='&quot;Liberation Sans&quot;, sans-serif' font-size="19.3" text-anchor="middle" fill="#000">75&#176;W</text>
<text x="348.7" y="411.4" font-family='&quot;Liberation Sans&quot;, sans-serif' font-size="19.3" text-anchor="middle" fill="#000">70&#176;W</text>
<defs>
<linearGradient id="g0" x1="0" y1="0" x2="0" y2="1"><stop offset="0" stop-color="#ffd8e8"/><stop offset="1" stop-color="#ff98ff"/></linearGradient>
<linearGradient id="g1" x1="0" y1="0" x2="0" y2="1"><stop offset="0" stop-color="#ff80f0"/><stop offset="1" stop-color="#ff2050"/></linearGradient>
<linearGradient id="g2" x1="0" y1="0" x2="0" y2="1"><stop offset="0" stop-color="#ff2838"/><stop offset="1" stop-color="#ff5840"/></linearGradient>
<linearGradient id="g3" x1="0" y1="0" x2="0" y2="1"><stop offset="0" stop-color="#ffa040"/><stop offset="1" stop-color="#ffd040"/></linearGradient>
<linearGradient id="g4" x1="0" y1="0" x2="0" y2="1"><stop offset="0" stop-color="#f8e840"/><stop offset="1" stop-color="#d8f040"/></linearGradient>
<linearGradient id="g5" x1="0" y1="0" x2="0" y2="1"><stop offset="0" stop-color="#a0f840"/><stop offset="1" stop-color="#80f040"/></linearGradient>
<linearGradient id="g6" x1="0" y1="0" x2="0" y2="1"><stop offset="0" stop-color="#40f850"/><stop offset="1" stop-color="#48f0a0"/></linearGradient>
<linearGradient id="g7" x1="0" y1="0" x2="0" y2="1"><stop offset="0" stop-color="#40f0c0"/><stop offset="1" stop-color="#40e0f0"/></linearGradient>
<linearGradient id="g8" x1="0" y1="0" x2="0" y2="1"><stop offset="0" stop-color="#40d0ff"/><stop offset="1" stop-color="#40b8f0"/></linearGradient>
<linearGradient id="g9" x1="0" y1="0" x2="0" y2="1"><stop offset="0" stop-color="#0890ff"/><stop offset="1" stop-color="#0888f8"/></linearGradient>
<linearGradient id="g10" x1="0" y1="0" x2="0" y2="1"><stop offset="0" stop-color="#1878f8"/><stop offset="1" stop-color="#4010c0"/></linearGradient>
<linearGradient id="g11" x1="0" y1="0" x2="0" y2="1"><stop offset="0" stop-color="#400090"/><stop offset="1" stop-color="#400040"/></linearGradient>
</defs>
<rect x="473.0" y="175.30" width="19.0" height="16.16" fill="url(#g0)"/>
<rect x="473.0" y="191.26" width="19.0" height="16.16" fill="url(#g1)"/>
<rect x="473.0" y="207.22" width="19.0" height="16.16" fill="url(#g2)"/>
<rect x="473.0" y="223.18" width="19.0" height="16.16" fill="url(#g3)"/>
<rect x="473.0" y="239.13" width="19.0" height="16.16" fill="url(#g4)"/>
<rect x="473.0" y="255.09" width="19.0" height="16.16" fill="url(#g5)"/>
<rect x="473.0" y="271.05" width="19.0" height="16.16" fill="url(#g6)"/>
<rect x="473.0" y="287.01" width="19.0" height="16.16" fill="url(#g7)"/>
<rect x="473.0" y="302.97" width="19.0" height="16.16" fill="url(#g8)"/>
<rect x="473.0" y="318.93" width="19.0" height="16.16" fill="url(#g9)"/>
<rect x="473.0" y="334.88" width="19.0" height="16.16" fill="url(#g10)"/>
<rect x="473.0" y="350.84" width="19.0" height="16.16" fill="url(#g11)"/>
<line x1="473.0" y1="191.26" x2="492.0" y2="191.26" stroke="#000" stroke-width="0.8"/>
<line x1="473.0" y1="207.22" x2="492.0" y2="207.22" stroke="#000" stroke-width="0.8"/>
<line x1="473.0" y1="223.18" x2="492.0" y2="223.18" stroke="#000" stroke-width="0.8"/>
<line x1="473.0" y1="239.13" x2="492.0" y2="239.13" stroke="#000" stroke-width="0.8"/>
<line x1="473.0" y1="255.09" x2="492.0" y2="255.09" stroke="#000" stroke-width="0.8"/>
<line x1="473.0" y1="271.05" x2="492.0" y2="271.05" stroke="#000" stroke-width="0.8"/>
<line x1="473.0" y1="287.01" x2="492.0" y2="287.01" stroke="#000" stroke-width="0.8"/>
<line x1="473.0" y1="302.97" x2="492.0" y2="302.97" stroke="#000" stroke-width="0.8"/>
<line x1="473.0" y1="318.93" x2="492.0" y2="318.93" stroke="#000" stroke-width="0.8"/>
<line x1="473.0" y1="334.88" x2="492.0" y2="334.88" stroke="#000" stroke-width="0.8"/>
<line x1="473.0" y1="350.84" x2="492.0" y2="350.84" stroke="#000" stroke-width="0.8"/>
<rect x="473.0" y="175.3" width="19.0" height="191.5" fill="none" stroke="#000" stroke-width="1.8"/>
<line x1="492.0" y1="175.30" x2="499.5" y2="175.30" stroke="#000" stroke-width="1"/>
<text x="538.8" y="175.50" font-family='&quot;Liberation Sans&quot;, sans-serif' font-size="18.6" text-anchor="end" dominant-baseline="central" fill="#000">120</text>
<line x1="492.0" y1="191.26" x2="499.5" y2="191.26" stroke="#000" stroke-width="1"/>
<text x="538.8" y="191.46" font-family='&quot;Liberation Sans&quot;, sans-serif' font-size="18.6" text-anchor="end" dominant-baseline="central" fill="#000">110</text>
<line x1="492.0" y1="207.22" x2="499.5" y2="207.22" stroke="#000" stroke-width="1"/>
<text x="538.8" y="207.42" font-family='&quot;Liberation Sans&quot;, sans-serif' font-size="18.6" text-anchor="end" dominant-baseline="central" fill="#000">100</text>
<line x1="492.0" y1="223.18" x2="499.5" y2="223.18" stroke="#000" stroke-width="1"/>
<text x="538.8" y="223.38" font-family='&quot;Liberation Sans&quot;, sans-serif' font-size="18.6" text-anchor="end" dominant-baseline="central" fill="#000">90</text>
<line x1="492.0" y1="239.13" x2="499.5" y2="239.13" stroke="#000" stroke-width="1"/>
<text x="538.8" y="239.33" font-family='&quot;Liberation Sans&quot;, sans-serif' font-size="18.6" text-anchor="end" dominant-baseline="central" fill="#000">80</text>
<line x1="492.0" y1="255.09" x2="499.5" y2="255.09" stroke="#000" stroke-width="1"/>
<text x="538.8" y="255.29" font-family='&quot;Liberation Sans&quot;, sans-serif' font-size="18.6" text-anchor="end" dominant-baseline="central" fill="#000">70</text>
<line x1="492.0" y1="271.05" x2="499.5" y2="271.05" stroke="#000" stroke-width="1"/>
<text x="538.8" y="271.25" font-family='&quot;Liberation Sans&quot;, sans-serif' font-size="18.6" text-anchor="end" dominant-baseline="central" fill="#000">60</text>
<line x1="492.0" y1="287.01" x2="499.5" y2="287.01" stroke="#000" stroke-width="1"/>
<text x="538.8" y="287.21" font-family='&quot;Liberation Sans&quot;, sans-serif' font-size="18.6" text-anchor="end" dominant-baseline="central" fill="#000">50</text>
<line x1="492.0" y1="302.97" x2="499.5" y2="302.97" stroke="#000" stroke-width="1"/>
<text x="538.8" y="303.17" font-family='&quot;Liberation Sans&quot;, sans-serif' font-size="18.6" text-anchor="end" dominant-baseline="central" fill="#000">40</text>
<line x1="492.0" y1="318.93" x2="499.5" y2="318.93" stroke="#000" stroke-width="1"/>
<text x="538.8" y="319.12" font-family='&quot;Liberation Sans&quot;, sans-serif' font-size="18.6" text-anchor="end" dominant-baseline="central" fill="#000">30</text>
<line x1="492.0" y1="334.88" x2="499.5" y2="334.88" stroke="#000" stroke-width="1"/>
<text x="538.8" y="335.08" font-family='&quot;Liberation Sans&quot;, sans-serif' font-size="18.6" text-anchor="end" dominant-baseline="central" fill="#000">20</text>
<line x1="492.0" y1="350.84" x2="499.5" y2="350.84" stroke="#000" stroke-width="1"/>
<text x="538.8" y="351.04" font-family='&quot;Liberation Sans&quot;, sans-serif' font-size="18.6" text-anchor="end" dominant-baseline="central" fill="#000">10</text>
<line x1="492.0" y1="366.80" x2="499.5" y2="366.80" stroke="#000" stroke-width="1"/>
<text x="538.8" y="367.00" font-family='&quot;Liberation Sans&quot;, sans-serif' font-size="18.6" text-anchor="end" dominant-baseline="central" fill="#000">0</text>
<text x="0" y="0" transform="translate(552.9,270.9) rotate(-90)" font-family='&quot;Liberation Sans&quot;, sans-serif' font-size="15.1" text-anchor="middle" fill="#000">Heat Flow (mW/m<tspan font-size="10" dy="-5">2</tspan><tspan dy="5">)</tspan></text>
<defs><clipPath id="pc0"><rect x="71.5" y="454.6" width="267.1" height="114.6"/></clipPath></defs>
<g clip-path="url(#pc0)">
<path d="M77.20,521.90 C78.12,520.13 80.50,512.22 82.70,511.30 C84.90,510.38 87.40,514.70 90.40,516.40 C93.40,518.10 97.28,519.62 100.70,521.50 C104.12,523.38 107.50,526.00 110.90,527.70 C114.30,529.40 117.35,530.75 121.10,531.70 C124.85,532.65 129.32,533.73 133.40,533.40 C137.48,533.07 141.87,531.50 145.60,529.70 C149.33,527.90 153.73,523.63 155.80,522.60 C157.87,521.57 156.63,524.02 158.00,523.50 C159.37,522.98 162.00,520.75 164.00,519.50 C166.00,518.25 167.62,517.37 170.00,516.00 C172.38,514.63 174.53,513.10 178.30,511.30 C182.07,509.50 188.52,507.25 192.60,505.20 C196.68,503.15 199.90,500.87 202.80,499.00 C205.70,497.13 207.80,495.08 210.00,494.00 C212.20,492.92 211.00,492.78 216.00,492.50 C221.00,492.22 231.00,492.25 240.00,492.30 C249.00,492.35 260.00,492.63 270.00,492.80 C280.00,492.97 288.50,493.38 300.00,493.30 C311.50,493.22 332.50,492.47 339.00,492.30" fill="none" stroke="#00f" stroke-width="2.6" stroke-linecap="butt" stroke-linejoin="round" stroke-dasharray="10,6" stroke-dashoffset="8.0"/>
<path d="M77.20,521.50 C77.58,519.92 78.58,515.40 79.50,512.00 C80.42,508.60 81.22,502.07 82.70,501.10 C84.18,500.13 86.43,505.52 88.40,506.20 C90.37,506.88 90.75,504.78 94.50,505.20 C98.25,505.62 104.77,507.52 110.90,508.70 C117.03,509.88 126.20,511.60 131.30,512.30 C136.40,513.00 137.42,512.22 141.50,512.90 C145.58,513.58 151.70,517.35 155.80,516.40 C159.90,515.45 162.35,510.10 166.10,507.20 C169.85,504.30 174.57,501.22 178.30,499.00 C182.03,496.78 184.75,495.20 188.50,493.90 C192.25,492.60 196.38,491.75 200.80,491.20 C205.22,490.65 208.73,490.53 215.00,490.60 C221.27,490.67 228.67,491.25 238.40,491.60 C248.13,491.95 261.72,492.43 273.40,492.70 C285.08,492.97 297.57,493.32 308.50,493.20 C319.43,493.08 333.92,492.20 339.00,492.00" fill="none" stroke="#0f0" stroke-width="2.6" stroke-linecap="butt" stroke-linejoin="round" stroke-dasharray="10,6" stroke-dashoffset="8.0"/>
<path d="M77.20,521.50 C77.58,519.92 78.58,515.40 79.50,512.00 C80.42,508.60 81.22,502.07 82.70,501.10 C84.18,500.13 86.43,505.52 88.40,506.20 C90.37,506.88 90.75,504.78 94.50,505.20 C98.25,505.62 104.77,507.52 110.90,508.70 C117.03,509.88 126.20,511.60 131.30,512.30 C136.40,513.00 137.42,512.22 141.50,512.90 C145.58,513.58 151.72,515.98 155.80,516.40 C159.88,516.82 162.25,516.25 166.00,515.40 C169.75,514.55 173.87,513.00 178.30,511.30 C182.73,509.60 188.52,507.25 192.60,505.20 C196.68,503.15 199.90,500.87 202.80,499.00 C205.70,497.13 207.80,495.08 210.00,494.00 C212.20,492.92 211.00,492.78 216.00,492.50 C221.00,492.22 231.00,492.25 240.00,492.30 C249.00,492.35 260.00,492.63 270.00,492.80 C280.00,492.97 288.50,493.38 300.00,493.30 C311.50,493.22 332.50,492.47 339.00,492.30" fill="none" stroke="#f0f" stroke-width="2.6" stroke-linecap="butt" stroke-linejoin="round" stroke-dasharray="10,6" stroke-dashoffset="0.0"/>
<path d="M78.2,533.4 L84.1,539.3 L78.2,545.2 L72.3,539.3 Z" fill="#40b0f0" stroke="#000" stroke-width="1.2" stroke-linejoin="miter"/>
<path d="M92.1,519.3 L98.0,525.2 L92.1,531.1 L86.2,525.2 Z" fill="#40e0d0" stroke="#000" stroke-width="1.2" stroke-linejoin="miter"/>
<path d="M102.3,518.7 L108.2,524.6 L102.3,530.5 L96.4,524.6 Z" fill="#40e0d0" stroke="#000" stroke-width="1.2" stroke-linejoin="miter"/>
<path d="M216.7,458.1 L222.6,464.0 L216.7,469.9 L210.8,464.0 Z" fill="#fa98f6" stroke="#000" stroke-width="1.2" stroke-linejoin="miter"/>
<path d="M77.20,521.90 C78.12,520.13 80.50,512.22 82.70,511.30 C84.90,510.38 87.40,514.70 90.40,516.40 C93.40,518.10 97.28,519.62 100.70,521.50 C104.12,523.38 107.50,526.00 110.90,527.70 C114.30,529.40 117.35,530.75 121.10,531.70 C124.85,532.65 129.32,533.73 133.40,533.40 C137.48,533.07 141.87,531.50 145.60,529.70 C149.33,527.90 152.38,525.67 155.80,522.60 C159.22,519.53 162.68,514.88 166.10,511.30 C169.52,507.72 172.57,504.00 176.30,501.10 C180.03,498.20 184.42,495.55 188.50,493.90 C192.58,492.25 196.38,491.75 200.80,491.20 C205.22,490.65 208.73,490.53 215.00,490.60 C221.27,490.67 228.67,491.25 238.40,491.60 C248.13,491.95 261.72,492.43 273.40,492.70 C285.08,492.97 297.57,493.32 308.50,493.20 C319.43,493.08 333.92,492.20 339.00,492.00" fill="none" stroke="#000" stroke-width="2.8" stroke-linecap="butt" stroke-linejoin="round"/>
</g>
<rect x="71.5" y="454.6" width="267.1" height="114.6" fill="none" stroke="#000" stroke-width="2"/>
<line x1="63.5" y1="569.20" x2="71.5" y2="569.20" stroke="#000" stroke-width="1.1"/>
<line x1="338.6" y1="569.20" x2="346.6" y2="569.20" stroke="#000" stroke-width="1.1"/>
<text x="55.2" y="569.50" font-family='&quot;Liberation Sans&quot;, sans-serif' font-size="18.5" text-anchor="end" dominant-baseline="central" fill="#000">0</text>
<line x1="67.0" y1="559.65" x2="71.5" y2="559.65" stroke="#000" stroke-width="1.1"/>
<line x1="338.6" y1="559.65" x2="343.1" y2="559.65" stroke="#000" stroke-width="1.1"/>
<line x1="63.5" y1="550.10" x2="71.5" y2="550.10" stroke="#000" stroke-width="1.1"/>
<line x1="338.6" y1="550.10" x2="346.6" y2="550.10" stroke="#000" stroke-width="1.1"/>
<text x="55.2" y="550.40" font-family='&quot;Liberation Sans&quot;, sans-serif' font-size="18.5" text-anchor="end" dominant-baseline="central" fill="#000">20</text>
<line x1="67.0" y1="540.55" x2="71.5" y2="540.55" stroke="#000" stroke-width="1.1"/>
<line x1="338.6" y1="540.55" x2="343.1" y2="540.55" stroke="#000" stroke-width="1.1"/>
<line x1="63.5" y1="531.00" x2="71.5" y2="531.00" stroke="#000" stroke-width="1.1"/>
<line x1="338.6" y1="531.00" x2="346.6" y2="531.00" stroke="#000" stroke-width="1.1"/>
<text x="55.2" y="531.30" font-family='&quot;Liberation Sans&quot;, sans-serif' font-size="18.5" text-anchor="end" dominant-baseline="central" fill="#000">40</text>
<line x1="67.0" y1="521.45" x2="71.5" y2="521.45" stroke="#000" stroke-width="1.1"/>
<line x1="338.6" y1="521.45" x2="343.1" y2="521.45" stroke="#000" stroke-width="1.1"/>
<line x1="63.5" y1="511.90" x2="71.5" y2="511.90" stroke="#000" stroke-width="1.1"/>
<line x1="338.6" y1="511.90" x2="346.6" y2="511.90" stroke="#000" stroke-width="1.1"/>
<text x="55.2" y="512.20" font-family='&quot;Liberation Sans&quot;, sans-serif' font-size="18.5" text-anchor="end" dominant-baseline="central" fill="#000">60</text>
<line x1="67.0" y1="502.35" x2="71.5" y2="502.35" stroke="#000" stroke-width="1.1"/>
<line x1="338.6" y1="502.35" x2="343.1" y2="502.35" stroke="#000" stroke-width="1.1"/>
<line x1="63.5" y1="492.80" x2="71.5" y2="492.80" stroke="#000" stroke-width="1.1"/>
<line x1="338.6" y1="492.80" x2="346.6" y2="492.80" stroke="#000" stroke-width="1.1"/>
<text x="55.2" y="493.10" font-family='&quot;Liberation Sans&quot;, sans-serif' font-size="18.5" text-anchor="end" dominant-baseline="central" fill="#000">80</text>
<line x1="67.0" y1="483.25" x2="71.5" y2="483.25" stroke="#000" stroke-width="1.1"/>
<line x1="338.6" y1="483.25" x2="343.1" y2="483.25" stroke="#000" stroke-width="1.1"/>
<line x1="63.5" y1="473.70" x2="71.5" y2="473.70" stroke="#000" stroke-width="1.1"/>
<line x1="338.6" y1="473.70" x2="346.6" y2="473.70" stroke="#000" stroke-width="1.1"/>
<text x="55.2" y="474.00" font-family='&quot;Liberation Sans&quot;, sans-serif' font-size="18.5" text-anchor="end" dominant-baseline="central" fill="#000">100</text>
<line x1="67.0" y1="464.15" x2="71.5" y2="464.15" stroke="#000" stroke-width="1.1"/>
<line x1="338.6" y1="464.15" x2="343.1" y2="464.15" stroke="#000" stroke-width="1.1"/>
<line x1="63.5" y1="454.60" x2="71.5" y2="454.60" stroke="#000" stroke-width="1.1"/>
<line x1="338.6" y1="454.60" x2="346.6" y2="454.60" stroke="#000" stroke-width="1.1"/>
<text x="55.2" y="454.90" font-family='&quot;Liberation Sans&quot;, sans-serif' font-size="18.5" text-anchor="end" dominant-baseline="central" fill="#000">120</text>
<line x1="71.50" y1="447.1" x2="71.50" y2="454.6" stroke="#000" stroke-width="1.1"/>
<line x1="71.50" y1="569.2" x2="71.50" y2="576.7" stroke="#000" stroke-width="1.1"/>
<line x1="130.86" y1="447.1" x2="130.86" y2="454.6" stroke="#000" stroke-width="1.1"/>
<line x1="130.86" y1="569.2" x2="130.86" y2="576.7" stroke="#000" stroke-width="1.1"/>
<line x1="190.21" y1="447.1" x2="190.21" y2="454.6" stroke="#000" stroke-width="1.1"/>
<line x1="190.21" y1="569.2" x2="190.21" y2="576.7" stroke="#000" stroke-width="1.1"/>
<line x1="249.57" y1="447.1" x2="249.57" y2="454.6" stroke="#000" stroke-width="1.1"/>
<line x1="249.57" y1="569.2" x2="249.57" y2="576.7" stroke="#000" stroke-width="1.1"/>
<line x1="308.92" y1="447.1" x2="308.92" y2="454.6" stroke="#000" stroke-width="1.1"/>
<line x1="308.92" y1="569.2" x2="308.92" y2="576.7" stroke="#000" stroke-width="1.1"/>
<text x="0" y="0" transform="translate(12.4,511.4) rotate(-90)" font-family='&quot;Liberation Sans&quot;, sans-serif' font-size="15.1" text-anchor="middle" fill="#000">HeatFlow (mW/m<tspan font-size="10" dy="-5">2</tspan><tspan dy="5">)</tspan></text>
<text x="34.3" y="439.6" font-family='&quot;Liberation Serif&quot;, serif' font-weight="bold" font-size="26" fill="#000">(b)</text>
<text x="73.0" y="447.3" font-family='&quot;Liberation Serif&quot;, serif' font-weight="bold" font-size="21" fill="#000">B</text>
<text x="346.2" y="447.3" font-family='&quot;Liberation Serif&quot;, serif' font-weight="bold" font-size="21" text-anchor="end" fill="#000">B&#8217;</text>
<defs><clipPath id="pc1"><rect x="71.5" y="619.0" width="267.1" height="114.7"/></clipPath></defs>
<g clip-path="url(#pc1)">
<path d="M77.20,683.50 C78.22,683.60 81.10,683.42 83.30,684.10 C85.50,684.78 87.50,686.35 90.40,687.60 C93.30,688.85 97.28,690.32 100.70,691.60 C104.12,692.88 107.50,694.27 110.90,695.30 C114.30,696.33 117.70,697.22 121.10,697.80 C124.50,698.38 127.90,698.87 131.30,698.80 C134.70,698.73 138.10,698.42 141.50,697.40 C144.90,696.38 148.97,694.17 151.70,692.70 C154.43,691.23 155.52,690.38 157.90,688.60 C160.28,686.82 163.62,683.37 166.00,682.00 C168.38,680.63 169.13,681.35 172.20,680.40 C175.27,679.45 181.00,677.32 184.40,676.30 C187.80,675.28 189.87,675.67 192.60,674.30 C195.33,672.93 198.20,670.03 200.80,668.10 C203.40,666.17 205.62,664.22 208.20,662.70 C210.78,661.18 212.55,659.88 216.30,659.00 C220.05,658.12 223.42,657.73 230.70,657.40 C237.98,657.07 248.45,656.98 260.00,657.00 C271.55,657.02 286.83,657.50 300.00,657.50 C313.17,657.50 332.50,657.08 339.00,657.00" fill="none" stroke="#00f" stroke-width="2.6" stroke-linecap="butt" stroke-linejoin="round" stroke-dasharray="10,6" stroke-dashoffset="8.0"/>
<path d="M77.20,675.90 C78.38,675.35 80.38,672.93 84.30,672.60 C88.22,672.27 94.57,673.55 100.70,673.90 C106.83,674.25 115.65,674.57 121.10,674.70 C126.55,674.83 129.65,674.27 133.40,674.70 C137.15,675.13 139.87,676.42 143.60,677.30 C147.33,678.18 152.40,680.33 155.80,680.00 C159.20,679.67 160.58,677.62 164.00,675.30 C167.42,672.98 172.22,668.65 176.30,666.10 C180.38,663.55 184.42,661.53 188.50,660.00 C192.58,658.47 195.48,657.57 200.80,656.90 C206.12,656.23 213.72,656.23 220.40,656.00 C227.08,655.77 232.63,655.42 240.90,655.50 C249.17,655.58 260.15,656.17 270.00,656.50 C279.85,656.83 288.50,657.48 300.00,657.50 C311.50,657.52 332.50,656.75 339.00,656.60" fill="none" stroke="#0f0" stroke-width="2.6" stroke-linecap="butt" stroke-linejoin="round" stroke-dasharray="10,6" stroke-dashoffset="8.0"/>
<path d="M77.20,675.90 C78.38,675.35 80.38,672.93 84.30,672.60 C88.22,672.27 94.57,673.55 100.70,673.90 C106.83,674.25 115.65,674.57 121.10,674.70 C126.55,674.83 129.65,674.27 133.40,674.70 C137.15,675.13 139.87,676.42 143.60,677.30 C147.33,678.18 152.05,679.48 155.80,680.00 C159.55,680.52 163.37,680.33 166.10,680.40 C168.83,680.47 169.15,681.08 172.20,680.40 C175.25,679.72 181.00,677.32 184.40,676.30 C187.80,675.28 189.87,675.67 192.60,674.30 C195.33,672.93 198.20,670.03 200.80,668.10 C203.40,666.17 205.62,664.22 208.20,662.70 C210.78,661.18 212.55,659.88 216.30,659.00 C220.05,658.12 223.42,657.73 230.70,657.40 C237.98,657.07 248.45,656.98 260.00,657.00 C271.55,657.02 286.83,657.50 300.00,657.50 C313.17,657.50 332.50,657.08 339.00,657.00" fill="none" stroke="#f0f" stroke-width="2.6" stroke-linecap="butt" stroke-linejoin="round" stroke-dasharray="10,6" stroke-dashoffset="0.0"/>
<path d="M126.6,652.4 L132.5,658.3 L126.6,664.2 L120.7,658.3 Z" fill="#f8e048" stroke="#000" stroke-width="1.2" stroke-linejoin="miter"/>
<path d="M123.5,668.0 L129.4,673.9 L123.5,679.8 L117.6,673.9 Z" fill="#a0f040" stroke="#000" stroke-width="1.2" stroke-linejoin="miter"/>
<path d="M127.2,668.0 L133.1,673.9 L127.2,679.8 L121.3,673.9 Z" fill="#a0f040" stroke="#000" stroke-width="1.2" stroke-linejoin="miter"/>
<path d="M256.8,623.1 L262.7,629.0 L256.8,634.9 L250.9,629.0 Z" fill="#f080d0" stroke="#000" stroke-width="1.2" stroke-linejoin="miter"/>
<path d="M258.2,624.5 L264.1,630.4 L258.2,636.3 L252.3,630.4 Z" fill="#f080d0" stroke="#000" stroke-width="1.2" stroke-linejoin="miter"/>
<path d="M257.2,644.0 L263.1,649.9 L257.2,655.8 L251.3,649.9 Z" fill="#f8a040" stroke="#000" stroke-width="1.2" stroke-linejoin="miter"/>
<path d="M259.3,641.9 L265.2,647.8 L259.3,653.7 L253.4,647.8 Z" fill="#f8a040" stroke="#000" stroke-width="1.2" stroke-linejoin="miter"/>
<path d="M250.7,651.1 L256.6,657.0 L250.7,662.9 L244.8,657.0 Z" fill="#f8c840" stroke="#000" stroke-width="1.2" stroke-linejoin="miter"/>
<path d="M256.5,657.6 L262.4,663.5 L256.5,669.4 L250.6,663.5 Z" fill="#b0f040" stroke="#000" stroke-width="1.2" stroke-linejoin="miter"/>
<path d="M257.8,659.3 L263.7,665.2 L257.8,671.1 L251.9,665.2 Z" fill="#b0f040" stroke="#000" stroke-width="1.2" stroke-linejoin="miter"/>
<path d="M256.6,676.0 L262.5,681.9 L256.6,687.8 L250.7,681.9 Z" fill="#40f080" stroke="#000" stroke-width="1.2" stroke-linejoin="miter"/>
<path d="M77.20,683.50 C78.22,683.60 81.10,683.42 83.30,684.10 C85.50,684.78 87.50,686.35 90.40,687.60 C93.30,688.85 97.28,690.32 100.70,691.60 C104.12,692.88 107.50,694.27 110.90,695.30 C114.30,696.33 117.70,697.22 121.10,697.80 C124.50,698.38 127.90,698.87 131.30,698.80 C134.70,698.73 138.10,698.42 141.50,697.40 C144.90,696.38 148.28,695.02 151.70,692.70 C155.12,690.38 158.58,686.75 162.00,683.50 C165.42,680.25 168.80,676.45 172.20,673.20 C175.60,669.95 179.00,666.45 182.40,664.00 C185.80,661.55 188.85,659.68 192.60,658.50 C196.35,657.32 200.27,657.32 204.90,656.90 C209.53,656.48 214.40,656.23 220.40,656.00 C226.40,655.77 232.63,655.42 240.90,655.50 C249.17,655.58 260.15,656.17 270.00,656.50 C279.85,656.83 288.50,657.48 300.00,657.50 C311.50,657.52 332.50,656.75 339.00,656.60" fill="none" stroke="#000" stroke-width="2.8" stroke-linecap="butt" stroke-linejoin="round"/>
</g>
<rect x="71.5" y="619.0" width="267.1" height="114.7" fill="none" stroke="#000" stroke-width="2"/>
<line x1="63.5" y1="733.70" x2="71.5" y2="733.70" stroke="#000" stroke-width="1.1"/>
<line x1="338.6" y1="733.70" x2="346.6" y2="733.70" stroke="#000" stroke-width="1.1"/>
<text x="55.2" y="734.00" font-family='&quot;Liberation Sans&quot;, sans-serif' font-size="18.5" text-anchor="end" dominant-baseline="central" fill="#000">0</text>
<line x1="67.0" y1="724.14" x2="71.5" y2="724.14" stroke="#000" stroke-width="1.1"/>
<line x1="338.6" y1="724.14" x2="343.1" y2="724.14" stroke="#000" stroke-width="1.1"/>
<line x1="63.5" y1="714.58" x2="71.5" y2="714.58" stroke="#000" stroke-width="1.1"/>
<line x1="338.6" y1="714.58" x2="346.6" y2="714.58" stroke="#000" stroke-width="1.1"/>
<text x="55.2" y="714.88" font-family='&quot;Liberation Sans&quot;, sans-serif' font-size="18.5" text-anchor="end" dominant-baseline="central" fill="#000">20</text>
<line x1="67.0" y1="705.03" x2="71.5" y2="705.03" stroke="#000" stroke-width="1.1"/>
<line x1="338.6" y1="705.03" x2="343.1" y2="705.03" stroke="#000" stroke-width="1.1"/>
<line x1="63.5" y1="695.47" x2="71.5" y2="695.47" stroke="#000" stroke-width="1.1"/>
<line x1="338.6" y1="695.47" x2="346.6" y2="695.47" stroke="#000" stroke-width="1.1"/>
<text x="55.2" y="695.77" font-family='&quot;Liberation Sans&quot;, sans-serif' font-size="18.5" text-anchor="end" dominant-baseline="central" fill="#000">40</text>
<line x1="67.0" y1="685.91" x2="71.5" y2="685.91" stroke="#000" stroke-width="1.1"/>
<line x1="338.6" y1="685.91" x2="343.1" y2="685.91" stroke="#000" stroke-width="1.1"/>
<line x1="63.5" y1="676.35" x2="71.5" y2="676.35" stroke="#000" stroke-width="1.1"/>
<line x1="338.6" y1="676.35" x2="346.6" y2="676.35" stroke="#000" stroke-width="1.1"/>
<text x="55.2" y="676.65" font-family='&quot;Liberation Sans&quot;, sans-serif' font-size="18.5" text-anchor="end" dominant-baseline="central" fill="#000">60</text>
<line x1="67.0" y1="666.79" x2="71.5" y2="666.79" stroke="#000" stroke-width="1.1"/>
<line x1="338.6" y1="666.79" x2="343.1" y2="666.79" stroke="#000" stroke-width="1.1"/>
<line x1="63.5" y1="657.23" x2="71.5" y2="657.23" stroke="#000" stroke-width="1.1"/>
<line x1="338.6" y1="657.23" x2="346.6" y2="657.23" stroke="#000" stroke-width="1.1"/>
<text x="55.2" y="657.53" font-family='&quot;Liberation Sans&quot;, sans-serif' font-size="18.5" text-anchor="end" dominant-baseline="central" fill="#000">80</text>
<line x1="67.0" y1="647.67" x2="71.5" y2="647.67" stroke="#000" stroke-width="1.1"/>
<line x1="338.6" y1="647.67" x2="343.1" y2="647.67" stroke="#000" stroke-width="1.1"/>
<line x1="63.5" y1="638.12" x2="71.5" y2="638.12" stroke="#000" stroke-width="1.1"/>
<line x1="338.6" y1="638.12" x2="346.6" y2="638.12" stroke="#000" stroke-width="1.1"/>
<text x="55.2" y="638.42" font-family='&quot;Liberation Sans&quot;, sans-serif' font-size="18.5" text-anchor="end" dominant-baseline="central" fill="#000">100</text>
<line x1="67.0" y1="628.56" x2="71.5" y2="628.56" stroke="#000" stroke-width="1.1"/>
<line x1="338.6" y1="628.56" x2="343.1" y2="628.56" stroke="#000" stroke-width="1.1"/>
<line x1="63.5" y1="619.00" x2="71.5" y2="619.00" stroke="#000" stroke-width="1.1"/>
<line x1="338.6" y1="619.00" x2="346.6" y2="619.00" stroke="#000" stroke-width="1.1"/>
<text x="55.2" y="619.30" font-family='&quot;Liberation Sans&quot;, sans-serif' font-size="18.5" text-anchor="end" dominant-baseline="central" fill="#000">120</text>
<line x1="71.50" y1="611.5" x2="71.50" y2="619.0" stroke="#000" stroke-width="1.1"/>
<line x1="71.50" y1="733.7" x2="71.50" y2="741.2" stroke="#000" stroke-width="1.1"/>
<line x1="130.86" y1="611.5" x2="130.86" y2="619.0" stroke="#000" stroke-width="1.1"/>
<line x1="130.86" y1="733.7" x2="130.86" y2="741.2" stroke="#000" stroke-width="1.1"/>
<line x1="190.21" y1="611.5" x2="190.21" y2="619.0" stroke="#000" stroke-width="1.1"/>
<line x1="190.21" y1="733.7" x2="190.21" y2="741.2" stroke="#000" stroke-width="1.1"/>
<line x1="249.57" y1="611.5" x2="249.57" y2="619.0" stroke="#000" stroke-width="1.1"/>
<line x1="249.57" y1="733.7" x2="249.57" y2="741.2" stroke="#000" stroke-width="1.1"/>
<line x1="308.92" y1="611.5" x2="308.92" y2="619.0" stroke="#000" stroke-width="1.1"/>
<line x1="308.92" y1="733.7" x2="308.92" y2="741.2" stroke="#000" stroke-width="1.1"/>
<text x="0" y="0" transform="translate(12.4,675.9) rotate(-90)" font-family='&quot;Liberation Sans&quot;, sans-serif' font-size="15.1" text-anchor="middle" fill="#000">HeatFlow (mW/m<tspan font-size="10" dy="-5">2</tspan><tspan dy="5">)</tspan></text>
<text x="34.3" y="604.0" font-family='&quot;Liberation Serif&quot;, serif' font-weight="bold" font-size="26" fill="#000">(c)</text>
<text x="73.0" y="611.7" font-family='&quot;Liberation Serif&quot;, serif' font-weight="bold" font-size="21" fill="#000">C</text>
<text x="346.2" y="611.7" font-family='&quot;Liberation Serif&quot;, serif' font-weight="bold" font-size="21" text-anchor="end" fill="#000">C&#8217;</text>
<defs><clipPath id="pc2"><rect x="71.5" y="783.4" width="267.1" height="114.5"/></clipPath></defs>
<g clip-path="url(#pc2)">
<path d="M77.30,847.20 C78.58,847.83 82.05,849.53 85.00,851.00 C87.95,852.47 91.67,854.42 95.00,856.00 C98.33,857.58 102.12,859.30 105.00,860.50 C107.88,861.70 109.80,862.40 112.30,863.20 C114.80,864.00 117.32,864.82 120.00,865.30 C122.68,865.78 125.73,866.07 128.40,866.10 C131.07,866.13 133.57,865.98 136.00,865.50 C138.43,865.02 140.67,864.28 143.00,863.20 C145.33,862.12 147.57,860.70 150.00,859.00 C152.43,857.30 155.50,854.78 157.60,853.00 C159.70,851.22 160.20,849.63 162.60,848.30 C165.00,846.97 168.93,846.02 172.00,845.00 C175.07,843.98 177.67,843.12 181.00,842.20 C184.33,841.28 188.57,840.78 192.00,839.50 C195.43,838.22 198.15,836.38 201.60,834.50 C205.05,832.62 209.00,830.27 212.70,828.20 C216.40,826.13 220.58,823.30 223.80,822.10 C227.02,820.90 229.30,821.22 232.00,821.00 C234.70,820.78 233.67,820.72 240.00,820.80 C246.33,820.88 260.00,821.30 270.00,821.50 C280.00,821.70 288.50,822.00 300.00,822.00 C311.50,822.00 332.50,821.58 339.00,821.50" fill="none" stroke="#00f" stroke-width="2.6" stroke-linecap="butt" stroke-linejoin="round" stroke-dasharray="10,6" stroke-dashoffset="8.0"/>
<path d="M77.30,837.70 C78.03,838.07 79.58,839.18 81.70,839.90 C83.82,840.62 86.12,841.40 90.00,842.00 C93.88,842.60 100.00,843.20 105.00,843.50 C110.00,843.80 114.88,843.85 120.00,843.80 C125.12,843.75 131.53,843.08 135.70,843.20 C139.87,843.32 141.60,843.97 145.00,844.50 C148.40,845.03 153.03,846.93 156.10,846.40 C159.17,845.87 161.08,842.63 163.40,841.30 C165.72,839.97 167.90,839.62 170.00,838.40 C172.10,837.18 173.28,835.57 176.00,834.00 C178.72,832.43 182.40,830.83 186.30,829.00 C190.20,827.17 194.15,824.50 199.40,823.00 C204.65,821.50 211.23,820.47 217.80,820.00 C224.37,819.53 228.73,819.98 238.80,820.20 C248.87,820.42 267.25,821.00 278.20,821.30 C289.15,821.60 294.37,822.00 304.50,822.00 C314.63,822.00 333.25,821.42 339.00,821.30" fill="none" stroke="#0f0" stroke-width="2.6" stroke-linecap="butt" stroke-linejoin="round" stroke-dasharray="10,6" stroke-dashoffset="8.0"/>
<path d="M77.30,837.70 C78.03,838.07 79.58,839.18 81.70,839.90 C83.82,840.62 86.12,841.40 90.00,842.00 C93.88,842.60 100.00,843.20 105.00,843.50 C110.00,843.80 114.88,843.85 120.00,843.80 C125.12,843.75 131.53,843.08 135.70,843.20 C139.87,843.32 141.60,843.97 145.00,844.50 C148.40,845.03 153.03,846.32 156.10,846.40 C159.17,846.48 161.08,845.37 163.40,845.00 C165.72,844.63 167.07,844.67 170.00,844.20 C172.93,843.73 177.33,842.98 181.00,842.20 C184.67,841.42 188.57,840.78 192.00,839.50 C195.43,838.22 198.15,836.38 201.60,834.50 C205.05,832.62 209.00,830.27 212.70,828.20 C216.40,826.13 220.58,823.30 223.80,822.10 C227.02,820.90 229.30,821.22 232.00,821.00 C234.70,820.78 233.67,820.72 240.00,820.80 C246.33,820.88 260.00,821.30 270.00,821.50 C280.00,821.70 288.50,822.00 300.00,822.00 C311.50,822.00 332.50,821.58 339.00,821.50" fill="none" stroke="#f0f" stroke-width="2.6" stroke-linecap="butt" stroke-linejoin="round" stroke-dasharray="10,6" stroke-dashoffset="0.0"/>
<path d="M87.5,797.5 L93.4,803.4 L87.5,809.3 L81.6,803.4 Z" fill="#f02840" stroke="#000" stroke-width="1.2" stroke-linejoin="miter"/>
<path d="M109.4,810.9 L115.3,816.8 L109.4,822.7 L103.5,816.8 Z" fill="#f8b040" stroke="#000" stroke-width="1.2" stroke-linejoin="miter"/>
<path d="M95.1,817.6 L101.0,823.5 L95.1,829.4 L89.2,823.5 Z" fill="#f8e040" stroke="#000" stroke-width="1.2" stroke-linejoin="miter"/>
<path d="M84.6,834.7 L90.5,840.6 L84.6,846.5 L78.7,840.6 Z" fill="#40e860" stroke="#000" stroke-width="1.2" stroke-linejoin="miter"/>
<path d="M86.8,836.1 L92.7,842.0 L86.8,847.9 L80.9,842.0 Z" fill="#50e850" stroke="#000" stroke-width="1.2" stroke-linejoin="miter"/>
<path d="M96.0,834.0 L101.9,839.9 L96.0,845.8 L90.1,839.9 Z" fill="#90f040" stroke="#000" stroke-width="1.2" stroke-linejoin="miter"/>
<path d="M100.7,841.5 L106.6,847.4 L100.7,853.3 L94.8,847.4 Z" fill="#40f0a0" stroke="#000" stroke-width="1.2" stroke-linejoin="miter"/>
<path d="M88.7,844.2 L94.6,850.1 L88.7,856.0 L82.8,850.1 Z" fill="#40e8d0" stroke="#000" stroke-width="1.2" stroke-linejoin="miter"/>
<path d="M81.0,850.7 L86.9,856.6 L81.0,862.5 L75.1,856.6 Z" fill="#40c8f0" stroke="#000" stroke-width="1.2" stroke-linejoin="miter"/>
<path d="M83.9,853.7 L89.8,859.6 L83.9,865.5 L78.0,859.6 Z" fill="#40c8f0" stroke="#000" stroke-width="1.2" stroke-linejoin="miter"/>
<path d="M100.7,851.5 L106.6,857.4 L100.7,863.3 L94.8,857.4 Z" fill="#40c8f0" stroke="#000" stroke-width="1.2" stroke-linejoin="miter"/>
<path d="M94.8,855.9 L100.7,861.8 L94.8,867.7 L88.9,861.8 Z" fill="#40c8f0" stroke="#000" stroke-width="1.2" stroke-linejoin="miter"/>
<path d="M82.4,861.0 L88.3,866.9 L82.4,872.8 L76.5,866.9 Z" fill="#40c8f0" stroke="#000" stroke-width="1.2" stroke-linejoin="miter"/>
<path d="M91.9,858.1 L97.8,864.0 L91.9,869.9 L86.0,864.0 Z" fill="#40c8f0" stroke="#000" stroke-width="1.2" stroke-linejoin="miter"/>
<path d="M103.6,860.2 L109.5,866.1 L103.6,872.0 L97.7,866.1 Z" fill="#40c8f0" stroke="#000" stroke-width="1.2" stroke-linejoin="miter"/>
<path d="M108.7,857.3 L114.6,863.2 L108.7,869.1 L102.8,863.2 Z" fill="#40c8f0" stroke="#000" stroke-width="1.2" stroke-linejoin="miter"/>
<path d="M101.4,862.4 L107.3,868.3 L101.4,874.2 L95.5,868.3 Z" fill="#40c8f0" stroke="#000" stroke-width="1.2" stroke-linejoin="miter"/>
<path d="M103.5,864.6 L109.4,870.5 L103.5,876.4 L97.6,870.5 Z" fill="#1a2a3a" stroke="#000" stroke-width="1.2" stroke-linejoin="miter"/>
<path d="M97.5,852.6 L103.4,858.5 L97.5,864.4 L91.6,858.5 Z" fill="#40c8f0" stroke="#000" stroke-width="1.2" stroke-linejoin="miter"/>
<path d="M105.5,855.6 L111.4,861.5 L105.5,867.4 L99.6,861.5 Z" fill="#40c8f0" stroke="#000" stroke-width="1.2" stroke-linejoin="miter"/>
<path d="M88.5,856.6 L94.4,862.5 L88.5,868.4 L82.6,862.5 Z" fill="#40c8f0" stroke="#000" stroke-width="1.2" stroke-linejoin="miter"/>
<path d="M98.5,860.6 L104.4,866.5 L98.5,872.4 L92.6,866.5 Z" fill="#40c8f0" stroke="#000" stroke-width="1.2" stroke-linejoin="miter"/>
<path d="M106.5,861.1 L112.4,867.0 L106.5,872.9 L100.6,867.0 Z" fill="#40c8f0" stroke="#000" stroke-width="1.2" stroke-linejoin="miter"/>
<path d="M112.0,859.6 L117.9,865.5 L112.0,871.4 L106.1,865.5 Z" fill="#40c8f0" stroke="#000" stroke-width="1.2" stroke-linejoin="miter"/>
<path d="M76.5,874.6 L82.4,880.5 L76.5,886.4 L70.6,880.5 Z" fill="#1080f0" stroke="#000" stroke-width="1.2" stroke-linejoin="miter"/>
<path d="M78.0,873.1 L83.9,879.0 L78.0,884.9 L72.1,879.0 Z" fill="#1080f0" stroke="#000" stroke-width="1.2" stroke-linejoin="miter"/>
<path d="M80.2,871.2 L86.1,877.1 L80.2,883.0 L74.3,877.1 Z" fill="#1080f0" stroke="#000" stroke-width="1.2" stroke-linejoin="miter"/>
<path d="M260.6,863.4 L266.5,869.3 L260.6,875.2 L254.7,869.3 Z" fill="#40c0f0" stroke="#000" stroke-width="1.2" stroke-linejoin="miter"/>
<path d="M77.30,847.20 C78.58,847.83 82.05,849.53 85.00,851.00 C87.95,852.47 91.67,854.42 95.00,856.00 C98.33,857.58 102.12,859.30 105.00,860.50 C107.88,861.70 109.80,862.40 112.30,863.20 C114.80,864.00 117.32,864.82 120.00,865.30 C122.68,865.78 125.73,866.07 128.40,866.10 C131.07,866.13 133.57,865.98 136.00,865.50 C138.43,865.02 140.67,864.28 143.00,863.20 C145.33,862.12 147.57,860.70 150.00,859.00 C152.43,857.30 155.10,855.25 157.60,853.00 C160.10,850.75 162.42,848.08 165.00,845.50 C167.58,842.92 169.55,840.42 173.10,837.50 C176.65,834.58 181.92,830.48 186.30,828.00 C190.68,825.52 194.15,823.93 199.40,822.60 C204.65,821.27 211.23,820.40 217.80,820.00 C224.37,819.60 228.73,819.98 238.80,820.20 C248.87,820.42 267.25,821.00 278.20,821.30 C289.15,821.60 294.37,822.00 304.50,822.00 C314.63,822.00 333.25,821.42 339.00,821.30" fill="none" stroke="#000" stroke-width="2.8" stroke-linecap="butt" stroke-linejoin="round"/>
</g>
<rect x="71.5" y="783.4" width="267.1" height="114.5" fill="none" stroke="#000" stroke-width="2"/>
<line x1="63.5" y1="897.90" x2="71.5" y2="897.90" stroke="#000" stroke-width="1.1"/>
<line x1="338.6" y1="897.90" x2="346.6" y2="897.90" stroke="#000" stroke-width="1.1"/>
<text x="55.2" y="898.20" font-family='&quot;Liberation Sans&quot;, sans-serif' font-size="18.5" text-anchor="end" dominant-baseline="central" fill="#000">0</text>
<line x1="67.0" y1="888.36" x2="71.5" y2="888.36" stroke="#000" stroke-width="1.1"/>
<line x1="338.6" y1="888.36" x2="343.1" y2="888.36" stroke="#000" stroke-width="1.1"/>
<line x1="63.5" y1="878.82" x2="71.5" y2="878.82" stroke="#000" stroke-width="1.1"/>
<line x1="338.6" y1="878.82" x2="346.6" y2="878.82" stroke="#000" stroke-width="1.1"/>
<text x="55.2" y="879.12" font-family='&quot;Liberation Sans&quot;, sans-serif' font-size="18.5" text-anchor="end" dominant-baseline="central" fill="#000">20</text>
<line x1="67.0" y1="869.27" x2="71.5" y2="869.27" stroke="#000" stroke-width="1.1"/>
<line x1="338.6" y1="869.27" x2="343.1" y2="869.27" stroke="#000" stroke-width="1.1"/>
<line x1="63.5" y1="859.73" x2="71.5" y2="859.73" stroke="#000" stroke-width="1.1"/>
<line x1="338.6" y1="859.73" x2="346.6" y2="859.73" stroke="#000" stroke-width="1.1"/>
<text x="55.2" y="860.03" font-family='&quot;Liberation Sans&quot;, sans-serif' font-size="18.5" text-anchor="end" dominant-baseline="central" fill="#000">40</text>
<line x1="67.0" y1="850.19" x2="71.5" y2="850.19" stroke="#000" stroke-width="1.1"/>
<line x1="338.6" y1="850.19" x2="343.1" y2="850.19" stroke="#000" stroke-width="1.1"/>
<line x1="63.5" y1="840.65" x2="71.5" y2="840.65" stroke="#000" stroke-width="1.1"/>
<line x1="338.6" y1="840.65" x2="346.6" y2="840.65" stroke="#000" stroke-width="1.1"/>
<text x="55.2" y="840.95" font-family='&quot;Liberation Sans&quot;, sans-serif' font-size="18.5" text-anchor="end" dominant-baseline="central" fill="#000">60</text>
<line x1="67.0" y1="831.11" x2="71.5" y2="831.11" stroke="#000" stroke-width="1.1"/>
<line x1="338.6" y1="831.11" x2="343.1" y2="831.11" stroke="#000" stroke-width="1.1"/>
<line x1="63.5" y1="821.57" x2="71.5" y2="821.57" stroke="#000" stroke-width="1.1"/>
<line x1="338.6" y1="821.57" x2="346.6" y2="821.57" stroke="#000" stroke-width="1.1"/>
<text x="55.2" y="821.87" font-family='&quot;Liberation Sans&quot;, sans-serif' font-size="18.5" text-anchor="end" dominant-baseline="central" fill="#000">80</text>
<line x1="67.0" y1="812.02" x2="71.5" y2="812.02" stroke="#000" stroke-width="1.1"/>
<line x1="338.6" y1="812.02" x2="343.1" y2="812.02" stroke="#000" stroke-width="1.1"/>
<line x1="63.5" y1="802.48" x2="71.5" y2="802.48" stroke="#000" stroke-width="1.1"/>
<line x1="338.6" y1="802.48" x2="346.6" y2="802.48" stroke="#000" stroke-width="1.1"/>
<text x="55.2" y="802.78" font-family='&quot;Liberation Sans&quot;, sans-serif' font-size="18.5" text-anchor="end" dominant-baseline="central" fill="#000">100</text>
<line x1="67.0" y1="792.94" x2="71.5" y2="792.94" stroke="#000" stroke-width="1.1"/>
<line x1="338.6" y1="792.94" x2="343.1" y2="792.94" stroke="#000" stroke-width="1.1"/>
<line x1="63.5" y1="783.40" x2="71.5" y2="783.40" stroke="#000" stroke-width="1.1"/>
<line x1="338.6" y1="783.40" x2="346.6" y2="783.40" stroke="#000" stroke-width="1.1"/>
<text x="55.2" y="783.70" font-family='&quot;Liberation Sans&quot;, sans-serif' font-size="18.5" text-anchor="end" dominant-baseline="central" fill="#000">120</text>
<line x1="71.50" y1="775.9" x2="71.50" y2="783.4" stroke="#000" stroke-width="1.1"/>
<line x1="71.50" y1="897.9" x2="71.50" y2="905.4" stroke="#000" stroke-width="1.1"/>
<line x1="130.86" y1="775.9" x2="130.86" y2="783.4" stroke="#000" stroke-width="1.1"/>
<line x1="130.86" y1="897.9" x2="130.86" y2="905.4" stroke="#000" stroke-width="1.1"/>
<line x1="190.21" y1="775.9" x2="190.21" y2="783.4" stroke="#000" stroke-width="1.1"/>
<line x1="190.21" y1="897.9" x2="190.21" y2="905.4" stroke="#000" stroke-width="1.1"/>
<line x1="249.57" y1="775.9" x2="249.57" y2="783.4" stroke="#000" stroke-width="1.1"/>
<line x1="249.57" y1="897.9" x2="249.57" y2="905.4" stroke="#000" stroke-width="1.1"/>
<line x1="308.92" y1="775.9" x2="308.92" y2="783.4" stroke="#000" stroke-width="1.1"/>
<line x1="308.92" y1="897.9" x2="308.92" y2="905.4" stroke="#000" stroke-width="1.1"/>
<text x="71.50" y="927.5" font-family='&quot;Liberation Sans&quot;, sans-serif' font-size="18.6" text-anchor="middle" fill="#000">0</text>
<text x="130.86" y="927.5" font-family='&quot;Liberation Sans&quot;, sans-serif' font-size="18.6" text-anchor="middle" fill="#000">100</text>
<text x="190.21" y="927.5" font-family='&quot;Liberation Sans&quot;, sans-serif' font-size="18.6" text-anchor="middle" fill="#000">200</text>
<text x="249.57" y="927.5" font-family='&quot;Liberation Sans&quot;, sans-serif' font-size="18.6" text-anchor="middle" fill="#000">300</text>
<text x="308.92" y="927.5" font-family='&quot;Liberation Sans&quot;, sans-serif' font-size="18.6" text-anchor="middle" fill="#000">400</text>
<text x="205.0" y="948.5" font-family='&quot;Liberation Sans&quot;, sans-serif' font-size="15" text-anchor="middle" fill="#000">X Axis (km)</text>
<text x="0" y="0" transform="translate(12.4,840.1) rotate(-90)" font-family='&quot;Liberation Sans&quot;, sans-serif' font-size="15.1" text-anchor="middle" fill="#000">HeatFlow (mW/m<tspan font-size="10" dy="-5">2</tspan><tspan dy="5">)</tspan></text>
<text x="34.3" y="768.4" font-family='&quot;Liberation Serif&quot;, serif' font-weight="bold" font-size="26" fill="#000">(d)</text>
<text x="73.0" y="776.1" font-family='&quot;Liberation Serif&quot;, serif' font-weight="bold" font-size="21" fill="#000">D</text>
<text x="346.2" y="776.1" font-family='&quot;Liberation Serif&quot;, serif' font-weight="bold" font-size="21" text-anchor="end" fill="#000">D&#8217;</text>
<defs><clipPath id="pc3"><rect x="396.8" y="454.6" width="267.7" height="114.6"/></clipPath></defs>
<g clip-path="url(#pc3)">
<path d="M399.40,541.80 C400.72,541.65 405.10,541.20 407.30,540.90 C409.50,540.60 410.85,539.77 412.60,540.00 C414.35,540.23 415.92,542.00 417.80,542.30 C419.68,542.60 422.43,543.05 423.90,541.80 C425.37,540.55 424.98,536.12 426.60,534.80 C428.22,533.48 431.85,534.35 433.60,533.90 C435.35,533.45 434.77,532.40 437.10,532.10 C439.43,531.80 444.10,532.15 447.60,532.10 C451.10,532.05 452.70,532.23 458.10,531.80 C463.50,531.37 469.68,530.47 480.00,529.50 C490.32,528.53 505.83,527.02 520.00,526.00 C534.17,524.98 556.03,524.13 565.00,523.40 C573.97,522.67 570.88,522.18 573.80,521.60 C576.72,521.02 579.58,520.53 582.50,519.90 C585.42,519.27 588.38,518.33 591.30,517.80 C594.22,517.27 596.50,517.32 600.00,516.70 C603.50,516.08 608.07,514.60 612.30,514.10 C616.53,513.60 621.60,514.55 625.40,513.70 C629.20,512.85 632.90,509.58 635.10,509.00 C637.30,508.42 635.68,510.08 638.60,510.20 C641.52,510.32 648.20,509.70 652.60,509.70 C657.00,509.70 662.93,510.12 665.00,510.20" fill="none" stroke="#00f" stroke-width="2.6" stroke-linecap="butt" stroke-linejoin="round" stroke-dasharray="10,6" stroke-dashoffset="8.0"/>
<path d="M399.40,539.10 C400.72,538.52 404.82,536.18 407.30,535.60 C409.78,535.02 412.55,534.87 414.30,535.60 C416.05,536.33 416.33,539.42 417.80,540.00 C419.27,540.58 421.63,541.28 423.10,539.10 C424.57,536.92 425.43,529.23 426.60,526.90 C427.77,524.57 428.93,526.13 430.10,525.10 C431.27,524.07 432.15,522.02 433.60,520.70 C435.05,519.38 436.47,517.92 438.80,517.20 C441.13,516.48 444.67,516.40 447.60,516.40 C450.53,516.40 453.48,517.35 456.40,517.20 C459.32,517.05 461.00,516.75 465.10,515.50 C469.20,514.25 471.85,510.87 481.00,509.70 C490.15,508.53 506.57,509.00 520.00,508.50 C533.43,508.00 552.63,506.85 561.60,506.70 C570.57,506.55 568.85,508.10 573.80,507.60 C578.75,507.10 586.93,504.13 591.30,503.70 C595.67,503.27 596.50,505.37 600.00,505.00 C603.50,504.63 609.37,501.80 612.30,501.50 C615.23,501.20 615.42,503.07 617.60,503.20 C619.78,503.33 622.48,503.62 625.40,502.30 C628.32,500.98 632.90,496.02 635.10,495.30 C637.30,494.58 637.15,497.42 638.60,498.00 C640.05,498.58 641.47,498.72 643.80,498.80 C646.13,498.88 649.07,498.35 652.60,498.50 C656.13,498.65 662.93,499.50 665.00,499.70" fill="none" stroke="#0f0" stroke-width="2.6" stroke-linecap="butt" stroke-linejoin="round" stroke-dasharray="10,6" stroke-dashoffset="8.0"/>
<path d="M399.40,539.10 C400.72,538.52 404.82,536.18 407.30,535.60 C409.78,535.02 412.55,534.87 414.30,535.60 C416.05,536.33 416.33,539.42 417.80,540.00 C419.27,540.58 421.63,541.28 423.10,539.10 C424.57,536.92 425.43,529.23 426.60,526.90 C427.77,524.57 428.93,526.13 430.10,525.10 C431.27,524.07 432.15,522.02 433.60,520.70 C435.05,519.38 436.47,517.92 438.80,517.20 C441.13,516.48 444.67,516.40 447.60,516.40 C450.53,516.40 453.48,517.35 456.40,517.20 C459.32,517.05 461.00,516.75 465.10,515.50 C469.20,514.25 471.85,510.87 481.00,509.70 C490.15,508.53 506.57,509.00 520.00,508.50 C533.43,508.00 552.63,506.85 561.60,506.70 C570.57,506.55 568.85,508.10 573.80,507.60 C578.75,507.10 586.93,504.13 591.30,503.70 C595.67,503.27 596.50,505.37 600.00,505.00 C603.50,504.63 609.37,501.80 612.30,501.50 C615.23,501.20 615.42,503.07 617.60,503.20 C619.78,503.33 622.48,503.62 625.40,502.30 C628.32,500.98 632.90,496.02 635.10,495.30 C637.30,494.58 637.15,497.42 638.60,498.00 C640.05,498.58 641.47,498.72 643.80,498.80 C646.13,498.88 649.07,498.35 652.60,498.50 C656.13,498.65 662.93,499.50 665.00,499.70" fill="none" stroke="#f0f" stroke-width="2.6" stroke-linecap="butt" stroke-linejoin="round" stroke-dasharray="10,6" stroke-dashoffset="0.0"/>
<path d="M446.7,507.0 L452.6,512.9 L446.7,518.8 L440.8,512.9 Z" fill="#40d860" stroke="#000" stroke-width="1.2" stroke-linejoin="miter"/>
<path d="M446.7,509.6 L452.6,515.5 L446.7,521.4 L440.8,515.5 Z" fill="#40e070" stroke="#000" stroke-width="1.2" stroke-linejoin="miter"/>
<path d="M446.7,514.8 L452.6,520.7 L446.7,526.6 L440.8,520.7 Z" fill="#40e8c8" stroke="#000" stroke-width="1.2" stroke-linejoin="miter"/>
<path d="M446.7,519.2 L452.6,525.1 L446.7,531.0 L440.8,525.1 Z" fill="#40e0d0" stroke="#000" stroke-width="1.2" stroke-linejoin="miter"/>
<path d="M446.7,528.6 L452.6,534.5 L446.7,540.4 L440.8,534.5 Z" fill="#101010" stroke="#000" stroke-width="1.2" stroke-linejoin="miter"/>
<path d="M446.7,524.1 L452.6,530.0 L446.7,535.9 L440.8,530.0 Z" fill="#48c8f0" stroke="#000" stroke-width="1.2" stroke-linejoin="miter"/>
<path d="M463.4,449.1 L469.3,455.0 L463.4,460.9 L457.5,455.0 Z" fill="#ffc8e0" stroke="#000" stroke-width="1.2" stroke-linejoin="miter"/>
<path d="M463.4,461.4 L469.3,467.3 L463.4,473.2 L457.5,467.3 Z" fill="#f080b8" stroke="#000" stroke-width="1.2" stroke-linejoin="miter"/>
<path d="M469.5,468.4 L475.4,474.3 L469.5,480.2 L463.6,474.3 Z" fill="#f02840" stroke="#000" stroke-width="1.2" stroke-linejoin="miter"/>
<path d="M469.5,481.5 L475.4,487.4 L469.5,493.3 L463.6,487.4 Z" fill="#f8b040" stroke="#000" stroke-width="1.2" stroke-linejoin="miter"/>
<path d="M469.5,488.6 L475.4,494.5 L469.5,500.4 L463.6,494.5 Z" fill="#f8e040" stroke="#000" stroke-width="1.2" stroke-linejoin="miter"/>
<path d="M463.4,496.4 L469.3,502.3 L463.4,508.2 L457.5,502.3 Z" fill="#c0f040" stroke="#000" stroke-width="1.2" stroke-linejoin="miter"/>
<path d="M469.5,505.2 L475.4,511.1 L469.5,517.0 L463.6,511.1 Z" fill="#80f040" stroke="#000" stroke-width="1.2" stroke-linejoin="miter"/>
<path d="M473.0,511.3 L478.9,517.2 L473.0,523.1 L467.1,517.2 Z" fill="#40e080" stroke="#000" stroke-width="1.2" stroke-linejoin="miter"/>
<path d="M469.5,515.7 L475.4,521.6 L469.5,527.5 L463.6,521.6 Z" fill="#40e8d0" stroke="#000" stroke-width="1.2" stroke-linejoin="miter"/>
<path d="M473.0,521.0 L478.9,526.9 L473.0,532.8 L467.1,526.9 Z" fill="#40e0e0" stroke="#000" stroke-width="1.2" stroke-linejoin="miter"/>
<path d="M469.5,533.2 L475.4,539.1 L469.5,545.0 L463.6,539.1 Z" fill="#101010" stroke="#000" stroke-width="1.2" stroke-linejoin="miter"/>
<path d="M469.5,528.9 L475.4,534.8 L469.5,540.7 L463.6,534.8 Z" fill="#40c8f8" stroke="#000" stroke-width="1.2" stroke-linejoin="miter"/>
<path d="M533.9,517.4 L539.8,523.3 L533.9,529.2 L528.0,523.3 Z" fill="#40e0c8" stroke="#000" stroke-width="1.2" stroke-linejoin="miter"/>
<path d="M561.6,517.4 L567.5,523.3 L561.6,529.2 L555.7,523.3 Z" fill="#40e0c8" stroke="#000" stroke-width="1.2" stroke-linejoin="miter"/>
<path d="M590.6,526.6 L596.5,532.5 L590.6,538.4 L584.7,532.5 Z" fill="#40c8f8" stroke="#000" stroke-width="1.2" stroke-linejoin="miter"/>
<path d="M399.40,541.80 C400.72,541.65 405.10,541.20 407.30,540.90 C409.50,540.60 410.85,539.77 412.60,540.00 C414.35,540.23 415.92,542.00 417.80,542.30 C419.68,542.60 422.43,543.05 423.90,541.80 C425.37,540.55 424.98,536.12 426.60,534.80 C428.22,533.48 431.85,534.35 433.60,533.90 C435.35,533.45 434.77,532.40 437.10,532.10 C439.43,531.80 444.10,532.15 447.60,532.10 C451.10,532.05 452.70,532.23 458.10,531.80 C463.50,531.37 469.68,530.47 480.00,529.50 C490.32,528.53 505.83,527.02 520.00,526.00 C534.17,524.98 556.03,524.13 565.00,523.40 C573.97,522.67 570.88,522.18 573.80,521.60 C576.72,521.02 579.58,520.53 582.50,519.90 C585.42,519.27 588.38,518.33 591.30,517.80 C594.22,517.27 596.50,517.32 600.00,516.70 C603.50,516.08 608.07,514.60 612.30,514.10 C616.53,513.60 621.60,514.55 625.40,513.70 C629.20,512.85 632.90,509.58 635.10,509.00 C637.30,508.42 635.68,510.08 638.60,510.20 C641.52,510.32 648.20,509.70 652.60,509.70 C657.00,509.70 662.93,510.12 665.00,510.20" fill="none" stroke="#000" stroke-width="2.8" stroke-linecap="butt" stroke-linejoin="round"/>
</g>
<rect x="396.8" y="454.6" width="267.7" height="114.6" fill="none" stroke="#000" stroke-width="2"/>
<line x1="388.8" y1="569.20" x2="396.8" y2="569.20" stroke="#000" stroke-width="1.1"/>
<line x1="664.5" y1="569.20" x2="672.5" y2="569.20" stroke="#000" stroke-width="1.1"/>
<line x1="392.3" y1="559.65" x2="396.8" y2="559.65" stroke="#000" stroke-width="1.1"/>
<line x1="664.5" y1="559.65" x2="669.0" y2="559.65" stroke="#000" stroke-width="1.1"/>
<line x1="388.8" y1="550.10" x2="396.8" y2="550.10" stroke="#000" stroke-width="1.1"/>
<line x1="664.5" y1="550.10" x2="672.5" y2="550.10" stroke="#000" stroke-width="1.1"/>
<line x1="392.3" y1="540.55" x2="396.8" y2="540.55" stroke="#000" stroke-width="1.1"/>
<line x1="664.5" y1="540.55" x2="669.0" y2="540.55" stroke="#000" stroke-width="1.1"/>
<line x1="388.8" y1="531.00" x2="396.8" y2="531.00" stroke="#000" stroke-width="1.1"/>
<line x1="664.5" y1="531.00" x2="672.5" y2="531.00" stroke="#000" stroke-width="1.1"/>
<line x1="392.3" y1="521.45" x2="396.8" y2="521.45" stroke="#000" stroke-width="1.1"/>
<line x1="664.5" y1="521.45" x2="669.0" y2="521.45" stroke="#000" stroke-width="1.1"/>
<line x1="388.8" y1="511.90" x2="396.8" y2="511.90" stroke="#000" stroke-width="1.1"/>
<line x1="664.5" y1="511.90" x2="672.5" y2="511.90" stroke="#000" stroke-width="1.1"/>
<line x1="392.3" y1="502.35" x2="396.8" y2="502.35" stroke="#000" stroke-width="1.1"/>
<line x1="664.5" y1="502.35" x2="669.0" y2="502.35" stroke="#000" stroke-width="1.1"/>
<line x1="388.8" y1="492.80" x2="396.8" y2="492.80" stroke="#000" stroke-width="1.1"/>
<line x1="664.5" y1="492.80" x2="672.5" y2="492.80" stroke="#000" stroke-width="1.1"/>
<line x1="392.3" y1="483.25" x2="396.8" y2="483.25" stroke="#000" stroke-width="1.1"/>
<line x1="664.5" y1="483.25" x2="669.0" y2="483.25" stroke="#000" stroke-width="1.1"/>
<line x1="388.8" y1="473.70" x2="396.8" y2="473.70" stroke="#000" stroke-width="1.1"/>
<line x1="664.5" y1="473.70" x2="672.5" y2="473.70" stroke="#000" stroke-width="1.1"/>
<line x1="392.3" y1="464.15" x2="396.8" y2="464.15" stroke="#000" stroke-width="1.1"/>
<line x1="664.5" y1="464.15" x2="669.0" y2="464.15" stroke="#000" stroke-width="1.1"/>
<line x1="388.8" y1="454.60" x2="396.8" y2="454.60" stroke="#000" stroke-width="1.1"/>
<line x1="664.5" y1="454.60" x2="672.5" y2="454.60" stroke="#000" stroke-width="1.1"/>
<line x1="396.80" y1="447.1" x2="396.80" y2="454.6" stroke="#000" stroke-width="1.1"/>
<line x1="396.80" y1="569.2" x2="396.80" y2="576.7" stroke="#000" stroke-width="1.1"/>
<line x1="441.42" y1="447.1" x2="441.42" y2="454.6" stroke="#000" stroke-width="1.1"/>
<line x1="441.42" y1="569.2" x2="441.42" y2="576.7" stroke="#000" stroke-width="1.1"/>
<line x1="486.03" y1="447.1" x2="486.03" y2="454.6" stroke="#000" stroke-width="1.1"/>
<line x1="486.03" y1="569.2" x2="486.03" y2="576.7" stroke="#000" stroke-width="1.1"/>
<line x1="530.65" y1="447.1" x2="530.65" y2="454.6" stroke="#000" stroke-width="1.1"/>
<line x1="530.65" y1="569.2" x2="530.65" y2="576.7" stroke="#000" stroke-width="1.1"/>
<line x1="575.27" y1="447.1" x2="575.27" y2="454.6" stroke="#000" stroke-width="1.1"/>
<line x1="575.27" y1="569.2" x2="575.27" y2="576.7" stroke="#000" stroke-width="1.1"/>
<line x1="619.88" y1="447.1" x2="619.88" y2="454.6" stroke="#000" stroke-width="1.1"/>
<line x1="619.88" y1="569.2" x2="619.88" y2="576.7" stroke="#000" stroke-width="1.1"/>
<line x1="664.50" y1="447.1" x2="664.50" y2="454.6" stroke="#000" stroke-width="1.1"/>
<line x1="664.50" y1="569.2" x2="664.50" y2="576.7" stroke="#000" stroke-width="1.1"/>
<text x="370.1" y="438.8" font-family='&quot;Liberation Serif&quot;, serif' font-weight="bold" font-size="26" fill="#000">(e)</text>
<text x="400.0" y="447.3" font-family='&quot;Liberation Serif&quot;, serif' font-weight="bold" font-size="21" fill="#000">E</text>
<text x="664.0" y="447.3" font-family='&quot;Liberation Serif&quot;, serif' font-weight="bold" font-size="21" text-anchor="end" fill="#000">E&#8217;</text>
<defs><clipPath id="pc4"><rect x="396.8" y="619.0" width="267.7" height="114.7"/></clipPath></defs>
<g clip-path="url(#pc4)">
<path d="M400.40,670.70 C402.92,670.02 410.90,667.97 415.50,666.60 C420.10,665.23 423.80,663.67 428.00,662.50 C432.20,661.33 436.70,660.35 440.70,659.60 C444.70,658.85 447.80,658.43 452.00,658.00 C456.20,657.57 457.90,657.25 465.90,657.00 C473.90,656.75 477.65,656.58 500.00,656.50 C522.35,656.42 572.50,656.45 600.00,656.50 C627.50,656.55 654.17,656.75 665.00,656.80" fill="none" stroke="#00f" stroke-width="2.6" stroke-linecap="butt" stroke-linejoin="round" stroke-dasharray="10,6" stroke-dashoffset="8.0"/>
<path d="M400.40,659.60 C403.67,659.30 413.28,658.30 420.00,657.80 C426.72,657.30 428.85,656.98 440.70,656.60 C452.55,656.22 471.22,655.63 491.10,655.50 C510.98,655.37 538.52,655.68 560.00,655.80 C581.48,655.92 602.50,656.03 620.00,656.20 C637.50,656.37 657.50,656.70 665.00,656.80" fill="none" stroke="#0f0" stroke-width="2.6" stroke-linecap="butt" stroke-linejoin="round" stroke-dasharray="10,6" stroke-dashoffset="8.0"/>
<path d="M400.40,670.70 C402.92,670.02 410.90,667.97 415.50,666.60 C420.10,665.23 423.80,663.67 428.00,662.50 C432.20,661.33 436.70,660.35 440.70,659.60 C444.70,658.85 447.80,658.43 452.00,658.00 C456.20,657.57 457.90,657.25 465.90,657.00 C473.90,656.75 477.65,656.58 500.00,656.50 C522.35,656.42 572.50,656.45 600.00,656.50 C627.50,656.55 654.17,656.75 665.00,656.80" fill="none" stroke="#f0f" stroke-width="2.6" stroke-linecap="butt" stroke-linejoin="round" stroke-dasharray="10,6" stroke-dashoffset="0.0"/>
<path d="M502.2,623.0 L508.1,628.9 L502.2,634.8 L496.3,628.9 Z" fill="#f080d0" stroke="#000" stroke-width="1.2" stroke-linejoin="miter"/>
<path d="M495.1,636.1 L501.0,642.0 L495.1,647.9 L489.2,642.0 Z" fill="#f03040" stroke="#000" stroke-width="1.2" stroke-linejoin="miter"/>
<path d="M501.2,643.1 L507.1,649.0 L501.2,654.9 L495.3,649.0 Z" fill="#f8a040" stroke="#000" stroke-width="1.2" stroke-linejoin="miter"/>
<path d="M497.1,651.2 L503.0,657.1 L497.1,663.0 L491.2,657.1 Z" fill="#f8c040" stroke="#000" stroke-width="1.2" stroke-linejoin="miter"/>
<path d="M502.2,659.7 L508.1,665.6 L502.2,671.5 L496.3,665.6 Z" fill="#b0f040" stroke="#000" stroke-width="1.2" stroke-linejoin="miter"/>
<path d="M503.7,676.3 L509.6,682.2 L503.7,688.1 L497.8,682.2 Z" fill="#40f080" stroke="#000" stroke-width="1.2" stroke-linejoin="miter"/>
<path d="M400.40,659.60 C403.67,659.30 413.28,658.30 420.00,657.80 C426.72,657.30 428.85,656.98 440.70,656.60 C452.55,656.22 471.22,655.63 491.10,655.50 C510.98,655.37 538.52,655.68 560.00,655.80 C581.48,655.92 602.50,656.03 620.00,656.20 C637.50,656.37 657.50,656.70 665.00,656.80" fill="none" stroke="#000" stroke-width="2.8" stroke-linecap="butt" stroke-linejoin="round"/>
</g>
<rect x="396.8" y="619.0" width="267.7" height="114.7" fill="none" stroke="#000" stroke-width="2"/>
<line x1="388.8" y1="733.70" x2="396.8" y2="733.70" stroke="#000" stroke-width="1.1"/>
<line x1="664.5" y1="733.70" x2="672.5" y2="733.70" stroke="#000" stroke-width="1.1"/>
<line x1="392.3" y1="724.14" x2="396.8" y2="724.14" stroke="#000" stroke-width="1.1"/>
<line x1="664.5" y1="724.14" x2="669.0" y2="724.14" stroke="#000" stroke-width="1.1"/>
<line x1="388.8" y1="714.58" x2="396.8" y2="714.58" stroke="#000" stroke-width="1.1"/>
<line x1="664.5" y1="714.58" x2="672.5" y2="714.58" stroke="#000" stroke-width="1.1"/>
<line x1="392.3" y1="705.03" x2="396.8" y2="705.03" stroke="#000" stroke-width="1.1"/>
<line x1="664.5" y1="705.03" x2="669.0" y2="705.03" stroke="#000" stroke-width="1.1"/>
<line x1="388.8" y1="695.47" x2="396.8" y2="695.47" stroke="#000" stroke-width="1.1"/>
<line x1="664.5" y1="695.47" x2="672.5" y2="695.47" stroke="#000" stroke-width="1.1"/>
<line x1="392.3" y1="685.91" x2="396.8" y2="685.91" stroke="#000" stroke-width="1.1"/>
<line x1="664.5" y1="685.91" x2="669.0" y2="685.91" stroke="#000" stroke-width="1.1"/>
<line x1="388.8" y1="676.35" x2="396.8" y2="676.35" stroke="#000" stroke-width="1.1"/>
<line x1="664.5" y1="676.35" x2="672.5" y2="676.35" stroke="#000" stroke-width="1.1"/>
<line x1="392.3" y1="666.79" x2="396.8" y2="666.79" stroke="#000" stroke-width="1.1"/>
<line x1="664.5" y1="666.79" x2="669.0" y2="666.79" stroke="#000" stroke-width="1.1"/>
<line x1="388.8" y1="657.23" x2="396.8" y2="657.23" stroke="#000" stroke-width="1.1"/>
<line x1="664.5" y1="657.23" x2="672.5" y2="657.23" stroke="#000" stroke-width="1.1"/>
<line x1="392.3" y1="647.67" x2="396.8" y2="647.67" stroke="#000" stroke-width="1.1"/>
<line x1="664.5" y1="647.67" x2="669.0" y2="647.67" stroke="#000" stroke-width="1.1"/>
<line x1="388.8" y1="638.12" x2="396.8" y2="638.12" stroke="#000" stroke-width="1.1"/>
<line x1="664.5" y1="638.12" x2="672.5" y2="638.12" stroke="#000" stroke-width="1.1"/>
<line x1="392.3" y1="628.56" x2="396.8" y2="628.56" stroke="#000" stroke-width="1.1"/>
<line x1="664.5" y1="628.56" x2="669.0" y2="628.56" stroke="#000" stroke-width="1.1"/>
<line x1="388.8" y1="619.00" x2="396.8" y2="619.00" stroke="#000" stroke-width="1.1"/>
<line x1="664.5" y1="619.00" x2="672.5" y2="619.00" stroke="#000" stroke-width="1.1"/>
<line x1="396.80" y1="611.5" x2="396.80" y2="619.0" stroke="#000" stroke-width="1.1"/>
<line x1="396.80" y1="733.7" x2="396.80" y2="741.2" stroke="#000" stroke-width="1.1"/>
<line x1="441.42" y1="611.5" x2="441.42" y2="619.0" stroke="#000" stroke-width="1.1"/>
<line x1="441.42" y1="733.7" x2="441.42" y2="741.2" stroke="#000" stroke-width="1.1"/>
<line x1="486.03" y1="611.5" x2="486.03" y2="619.0" stroke="#000" stroke-width="1.1"/>
<line x1="486.03" y1="733.7" x2="486.03" y2="741.2" stroke="#000" stroke-width="1.1"/>
<line x1="530.65" y1="611.5" x2="530.65" y2="619.0" stroke="#000" stroke-width="1.1"/>
<line x1="530.65" y1="733.7" x2="530.65" y2="741.2" stroke="#000" stroke-width="1.1"/>
<line x1="575.27" y1="611.5" x2="575.27" y2="619.0" stroke="#000" stroke-width="1.1"/>
<line x1="575.27" y1="733.7" x2="575.27" y2="741.2" stroke="#000" stroke-width="1.1"/>
<line x1="619.88" y1="611.5" x2="619.88" y2="619.0" stroke="#000" stroke-width="1.1"/>
<line x1="619.88" y1="733.7" x2="619.88" y2="741.2" stroke="#000" stroke-width="1.1"/>
<line x1="664.50" y1="611.5" x2="664.50" y2="619.0" stroke="#000" stroke-width="1.1"/>
<line x1="664.50" y1="733.7" x2="664.50" y2="741.2" stroke="#000" stroke-width="1.1"/>
<text x="370.1" y="603.2" font-family='&quot;Liberation Serif&quot;, serif' font-weight="bold" font-size="26" fill="#000">(f)</text>
<text x="400.0" y="611.7" font-family='&quot;Liberation Serif&quot;, serif' font-weight="bold" font-size="21" fill="#000">F</text>
<text x="664.0" y="611.7" font-family='&quot;Liberation Serif&quot;, serif' font-weight="bold" font-size="21" text-anchor="end" fill="#000">F&#8217;</text>
<defs><clipPath id="pc5"><rect x="396.8" y="783.4" width="267.7" height="114.5"/></clipPath></defs>
<g clip-path="url(#pc5)">
<path d="M400.40,822.10 C417.00,822.12 466.73,822.15 500.00,822.20 C533.27,822.25 572.50,822.33 600.00,822.40 C627.50,822.47 654.17,822.57 665.00,822.60" fill="none" stroke="#00f" stroke-width="2.6" stroke-linecap="butt" stroke-linejoin="round" stroke-dasharray="10,6" stroke-dashoffset="8.0"/>
<path d="M400.40,822.10 C417.00,822.12 466.73,822.15 500.00,822.20 C533.27,822.25 572.50,822.33 600.00,822.40 C627.50,822.47 654.17,822.57 665.00,822.60" fill="none" stroke="#0f0" stroke-width="2.6" stroke-linecap="butt" stroke-linejoin="round" stroke-dasharray="10,6" stroke-dashoffset="8.0"/>
<path d="M400.40,822.10 C417.00,822.12 466.73,822.15 500.00,822.20 C533.27,822.25 572.50,822.33 600.00,822.40 C627.50,822.47 654.17,822.57 665.00,822.60" fill="none" stroke="#f0f" stroke-width="2.6" stroke-linecap="butt" stroke-linejoin="round" stroke-dasharray="10,6" stroke-dashoffset="0.0"/>
<path d="M401.4,795.5 L407.3,801.4 L401.4,807.3 L395.5,801.4 Z" fill="#f03040" stroke="#000" stroke-width="1.2" stroke-linejoin="miter"/>
<path d="M424.1,792.0 L430.0,797.9 L424.1,803.8 L418.2,797.9 Z" fill="#f06080" stroke="#000" stroke-width="1.2" stroke-linejoin="miter"/>
<path d="M437.2,808.1 L443.1,814.0 L437.2,819.9 L431.3,814.0 Z" fill="#f8a840" stroke="#000" stroke-width="1.2" stroke-linejoin="miter"/>
<path d="M433.2,810.6 L439.1,816.5 L433.2,822.4 L427.3,816.5 Z" fill="#f8c040" stroke="#000" stroke-width="1.2" stroke-linejoin="miter"/>
<path d="M554.0,834.8 L559.9,840.7 L554.0,846.6 L548.1,840.7 Z" fill="#80f040" stroke="#000" stroke-width="1.2" stroke-linejoin="miter"/>
<path d="M400.40,822.10 C417.00,822.12 466.73,822.15 500.00,822.20 C533.27,822.25 572.50,822.33 600.00,822.40 C627.50,822.47 654.17,822.57 665.00,822.60" fill="none" stroke="#000" stroke-width="2.8" stroke-linecap="butt" stroke-linejoin="round"/>
</g>
<rect x="396.8" y="783.4" width="267.7" height="114.5" fill="none" stroke="#000" stroke-width="2"/>
<line x1="388.8" y1="897.90" x2="396.8" y2="897.90" stroke="#000" stroke-width="1.1"/>
<line x1="664.5" y1="897.90" x2="672.5" y2="897.90" stroke="#000" stroke-width="1.1"/>
<line x1="392.3" y1="888.36" x2="396.8" y2="888.36" stroke="#000" stroke-width="1.1"/>
<line x1="664.5" y1="888.36" x2="669.0" y2="888.36" stroke="#000" stroke-width="1.1"/>
<line x1="388.8" y1="878.82" x2="396.8" y2="878.82" stroke="#000" stroke-width="1.1"/>
<line x1="664.5" y1="878.82" x2="672.5" y2="878.82" stroke="#000" stroke-width="1.1"/>
<line x1="392.3" y1="869.27" x2="396.8" y2="869.27" stroke="#000" stroke-width="1.1"/>
<line x1="664.5" y1="869.27" x2="669.0" y2="869.27" stroke="#000" stroke-width="1.1"/>
<line x1="388.8" y1="859.73" x2="396.8" y2="859.73" stroke="#000" stroke-width="1.1"/>
<line x1="664.5" y1="859.73" x2="672.5" y2="859.73" stroke="#000" stroke-width="1.1"/>
<line x1="392.3" y1="850.19" x2="396.8" y2="850.19" stroke="#000" stroke-width="1.1"/>
<line x1="664.5" y1="850.19" x2="669.0" y2="850.19" stroke="#000" stroke-width="1.1"/>
<line x1="388.8" y1="840.65" x2="396.8" y2="840.65" stroke="#000" stroke-width="1.1"/>
<line x1="664.5" y1="840.65" x2="672.5" y2="840.65" stroke="#000" stroke-width="1.1"/>
<line x1="392.3" y1="831.11" x2="396.8" y2="831.11" stroke="#000" stroke-width="1.1"/>
<line x1="664.5" y1="831.11" x2="669.0" y2="831.11" stroke="#000" stroke-width="1.1"/>
<line x1="388.8" y1="821.57" x2="396.8" y2="821.57" stroke="#000" stroke-width="1.1"/>
<line x1="664.5" y1="821.57" x2="672.5" y2="821.57" stroke="#000" stroke-width="1.1"/>
<line x1="392.3" y1="812.02" x2="396.8" y2="812.02" stroke="#000" stroke-width="1.1"/>
<line x1="664.5" y1="812.02" x2="669.0" y2="812.02" stroke="#000" stroke-width="1.1"/>
<line x1="388.8" y1="802.48" x2="396.8" y2="802.48" stroke="#000" stroke-width="1.1"/>
<line x1="664.5" y1="802.48" x2="672.5" y2="802.48" stroke="#000" stroke-width="1.1"/>
<line x1="392.3" y1="792.94" x2="396.8" y2="792.94" stroke="#000" stroke-width="1.1"/>
<line x1="664.5" y1="792.94" x2="669.0" y2="792.94" stroke="#000" stroke-width="1.1"/>
<line x1="388.8" y1="783.40" x2="396.8" y2="783.40" stroke="#000" stroke-width="1.1"/>
<line x1="664.5" y1="783.40" x2="672.5" y2="783.40" stroke="#000" stroke-width="1.1"/>
<line x1="396.80" y1="775.9" x2="396.80" y2="783.4" stroke="#000" stroke-width="1.1"/>
<line x1="396.80" y1="897.9" x2="396.80" y2="905.4" stroke="#000" stroke-width="1.1"/>
<line x1="441.42" y1="775.9" x2="441.42" y2="783.4" stroke="#000" stroke-width="1.1"/>
<line x1="441.42" y1="897.9" x2="441.42" y2="905.4" stroke="#000" stroke-width="1.1"/>
<line x1="486.03" y1="775.9" x2="486.03" y2="783.4" stroke="#000" stroke-width="1.1"/>
<line x1="486.03" y1="897.9" x2="486.03" y2="905.4" stroke="#000" stroke-width="1.1"/>
<line x1="530.65" y1="775.9" x2="530.65" y2="783.4" stroke="#000" stroke-width="1.1"/>
<line x1="530.65" y1="897.9" x2="530.65" y2="905.4" stroke="#000" stroke-width="1.1"/>
<line x1="575.27" y1="775.9" x2="575.27" y2="783.4" stroke="#000" stroke-width="1.1"/>
<line x1="575.27" y1="897.9" x2="575.27" y2="905.4" stroke="#000" stroke-width="1.1"/>
<line x1="619.88" y1="775.9" x2="619.88" y2="783.4" stroke="#000" stroke-width="1.1"/>
<line x1="619.88" y1="897.9" x2="619.88" y2="905.4" stroke="#000" stroke-width="1.1"/>
<line x1="664.50" y1="775.9" x2="664.50" y2="783.4" stroke="#000" stroke-width="1.1"/>
<line x1="664.50" y1="897.9" x2="664.50" y2="905.4" stroke="#000" stroke-width="1.1"/>
<text x="396.80" y="927.5" font-family='&quot;Liberation Sans&quot;, sans-serif' font-size="18.6" text-anchor="middle" fill="#000">600</text>
<text x="441.42" y="927.5" font-family='&quot;Liberation Sans&quot;, sans-serif' font-size="18.6" text-anchor="middle" fill="#000">400</text>
<text x="486.03" y="927.5" font-family='&quot;Liberation Sans&quot;, sans-serif' font-size="18.6" text-anchor="middle" fill="#000">200</text>
<text x="530.65" y="927.5" font-family='&quot;Liberation Sans&quot;, sans-serif' font-size="18.6" text-anchor="middle" fill="#000">0</text>
<text x="575.27" y="927.5" font-family='&quot;Liberation Sans&quot;, sans-serif' font-size="18.6" text-anchor="middle" fill="#000">&#8722;200</text>
<text x="619.88" y="927.5" font-family='&quot;Liberation Sans&quot;, sans-serif' font-size="18.6" text-anchor="middle" fill="#000">&#8722;400</text>
<text x="664.50" y="927.5" font-family='&quot;Liberation Sans&quot;, sans-serif' font-size="18.6" text-anchor="middle" fill="#000">&#8722;600</text>
<text x="529.9" y="948.5" font-family='&quot;Liberation Sans&quot;, sans-serif' font-size="15" text-anchor="middle" fill="#000">Y Axis (km)</text>
<text x="370.1" y="767.6" font-family='&quot;Liberation Serif&quot;, serif' font-weight="bold" font-size="26" fill="#000">(g)</text>
<text x="400.0" y="776.1" font-family='&quot;Liberation Serif&quot;, serif' font-weight="bold" font-size="21" fill="#000">G</text>
<text x="664.0" y="776.1" font-family='&quot;Liberation Serif&quot;, serif' font-weight="bold" font-size="21" text-anchor="end" fill="#000">G&#8217;</text>
<line x1="90.5" y1="974.7" x2="128.8" y2="974.7" stroke="#000" stroke-width="2.6"/>
<text x="0" y="0" transform="translate(167.4,983.4) scale(1,1.02)" font-family='&quot;Liberation Serif&quot;, serif' font-weight="bold" font-size="21.7" fill="#000">&#956;&#8217;=0.000, without rigid mantle wedge (optimal model)</text>
<line x1="90.5" y1="993.9" x2="128.8" y2="993.9" stroke="#0f0" stroke-width="2.2" stroke-dasharray="2.5,7,9.1,6.9,9.5,20"/>
<text x="0" y="0" transform="translate(167.4,1002.6) scale(1,1.02)" font-family='&quot;Liberation Serif&quot;, serif' font-weight="bold" font-size="21.7" fill="#000">&#956;&#8217;=0.005, without rigid mantle wedge</text>
<line x1="90.5" y1="1013.1" x2="128.8" y2="1013.1" stroke="#00f" stroke-width="2.2" stroke-dasharray="3.7,6.8,11,6.6,10.2,20"/>
<text x="0" y="0" transform="translate(167.4,1021.8) scale(1,1.02)" font-family='&quot;Liberation Serif&quot;, serif' font-weight="bold" font-size="21.7" fill="#000">&#956;&#8217;=0.000, with rigid mantle wedge</text>
<line x1="90.5" y1="1032.3" x2="128.8" y2="1032.3" stroke="#f0f" stroke-width="2.2" stroke-dasharray="5.4,6.3,12.3,6.6,7.7,20"/>
<text x="0" y="0" transform="translate(167.4,1041.0) scale(1,1.02)" font-family='&quot;Liberation Serif&quot;, serif' font-weight="bold" font-size="21.7" fill="#000">&#956;&#8217;=0.005, with rigid mantle wedge</text>
</svg></body></html>
